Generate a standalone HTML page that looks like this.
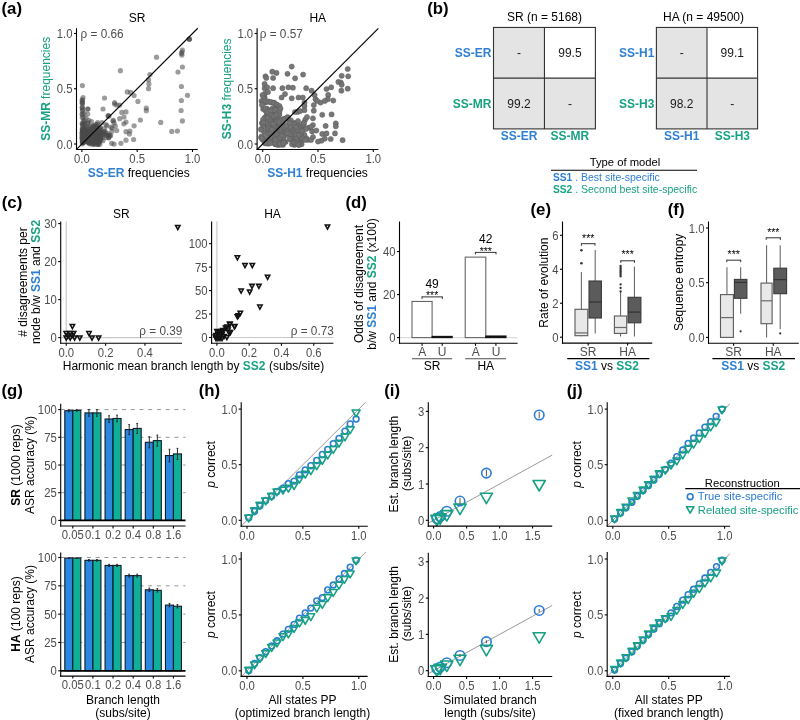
<!DOCTYPE html>
<html><head><meta charset="utf-8"><style>
html,body{margin:0;padding:0;background:#fff;}
svg{display:block;font-family:"Liberation Sans", sans-serif;will-change:transform;}
</style></head><body>
<svg width="800" height="720" viewBox="0 0 800 720">
<rect width="800" height="720" fill="#fff"/>
<text x="1.5" y="14" font-size="16.8" fill="#000" font-weight="bold">(a)</text>
<g fill="#4a4a4a" fill-opacity="0.55"><circle cx="189.2" cy="39" r="2.6"/><circle cx="189.2" cy="39" r="2.6"/><circle cx="189.5" cy="39.3" r="2.6"/><circle cx="182.4" cy="50" r="2.6"/><circle cx="181.4" cy="53.4" r="2.6"/><circle cx="181.9" cy="55.1" r="2.6"/><circle cx="182" cy="52" r="2.6"/><circle cx="156.5" cy="57.2" r="2.6"/><circle cx="120.4" cy="70.7" r="2.6"/><circle cx="182.4" cy="67" r="2.6"/><circle cx="178" cy="72" r="2.6"/><circle cx="149.9" cy="74.6" r="2.6"/><circle cx="148.5" cy="79.7" r="2.6"/><circle cx="148.9" cy="83.9" r="2.6"/><circle cx="148.5" cy="88.7" r="2.6"/><circle cx="82.4" cy="85.6" r="2.6"/><circle cx="181.4" cy="86.5" r="2.6"/><circle cx="187.5" cy="95.3" r="2.6"/><circle cx="127.2" cy="91.9" r="2.6"/><circle cx="130.6" cy="92.4" r="2.6"/><circle cx="134.1" cy="95.5" r="2.6"/><circle cx="104.5" cy="98" r="2.6"/><circle cx="137.9" cy="101.4" r="2.6"/><circle cx="181.4" cy="100.5" r="2.6"/><circle cx="114.6" cy="102.6" r="2.6"/><circle cx="116.7" cy="105.1" r="2.6"/><circle cx="119.7" cy="105.1" r="2.6"/><circle cx="114.6" cy="104" r="2.6"/><circle cx="146.3" cy="108" r="2.6"/><circle cx="146.3" cy="110.7" r="2.6"/><circle cx="181.1" cy="110.5" r="2.6"/><circle cx="121.8" cy="112.4" r="2.6"/><circle cx="126" cy="111.9" r="2.6"/><circle cx="108.2" cy="115.6" r="2.6"/><circle cx="182.4" cy="120.9" r="2.6"/><circle cx="160.7" cy="122.4" r="2.6"/><circle cx="140.4" cy="120" r="2.6"/><circle cx="171.8" cy="131.4" r="2.6"/><circle cx="177.4" cy="131" r="2.6"/><circle cx="134.1" cy="125.8" r="2.6"/><circle cx="126" cy="131.7" r="2.6"/><circle cx="129.9" cy="131" r="2.6"/><circle cx="129.4" cy="134" r="2.6"/><circle cx="133.6" cy="139.5" r="2.6"/><circle cx="126" cy="140.2" r="2.6"/><circle cx="120.9" cy="143.3" r="2.6"/><circle cx="111.6" cy="143.3" r="2.6"/><circle cx="114.1" cy="144.1" r="2.6"/><circle cx="82.4" cy="100" r="2.6"/><circle cx="82.4" cy="102.6" r="2.6"/><circle cx="82.4" cy="107.7" r="2.6"/><circle cx="82.4" cy="114.4" r="2.6"/><circle cx="82.4" cy="111" r="2.6"/><circle cx="82.4" cy="104" r="2.6"/><circle cx="87.9" cy="109" r="2.6"/><circle cx="124" cy="117" r="2.6"/><circle cx="119.7" cy="118.7" r="2.6"/><circle cx="113.3" cy="120.4" r="2.6"/><circle cx="115.3" cy="126" r="2.6"/><circle cx="114.1" cy="122.9" r="2.6"/><circle cx="116.7" cy="130.5" r="2.6"/><circle cx="123.8" cy="123.8" r="2.6"/><circle cx="126" cy="122" r="2.6"/><circle cx="112.1" cy="128" r="2.6"/><circle cx="109.9" cy="135.1" r="2.6"/><circle cx="108.2" cy="116.1" r="2.6"/><circle cx="88.15" cy="133.04" r="2.6"/><circle cx="94.37" cy="131.98" r="2.6"/><circle cx="92.18" cy="135.94" r="2.6"/><circle cx="83.1" cy="137.85" r="2.6"/><circle cx="82.71" cy="136.85" r="2.6"/><circle cx="83.33" cy="132.22" r="2.6"/><circle cx="90.07" cy="142.16" r="2.6"/><circle cx="84.35" cy="134.01" r="2.6"/><circle cx="93.92" cy="143.79" r="2.6"/><circle cx="92.96" cy="136.36" r="2.6"/><circle cx="100.55" cy="131.63" r="2.6"/><circle cx="98.31" cy="134.91" r="2.6"/><circle cx="84.74" cy="132.59" r="2.6"/><circle cx="87.86" cy="142.02" r="2.6"/><circle cx="85.43" cy="138.85" r="2.6"/><circle cx="94.14" cy="136.03" r="2.6"/><circle cx="92.41" cy="131.85" r="2.6"/><circle cx="83.13" cy="133.78" r="2.6"/><circle cx="94.93" cy="136.77" r="2.6"/><circle cx="87.97" cy="138.91" r="2.6"/><circle cx="90.61" cy="135.05" r="2.6"/><circle cx="97.09" cy="140.44" r="2.6"/><circle cx="86.64" cy="138.75" r="2.6"/><circle cx="91.98" cy="142.81" r="2.6"/><circle cx="95.86" cy="134.89" r="2.6"/><circle cx="100.62" cy="132.59" r="2.6"/><circle cx="89.94" cy="141.22" r="2.6"/><circle cx="84.89" cy="137.6" r="2.6"/><circle cx="82.74" cy="140.02" r="2.6"/><circle cx="96.53" cy="138.74" r="2.6"/><circle cx="98.63" cy="135.24" r="2.6"/><circle cx="95.21" cy="139.02" r="2.6"/><circle cx="93.02" cy="137.16" r="2.6"/><circle cx="97.96" cy="143.75" r="2.6"/><circle cx="91.01" cy="139.97" r="2.6"/><circle cx="83.15" cy="140.47" r="2.6"/><circle cx="94.3" cy="144.41" r="2.6"/><circle cx="97.62" cy="134.84" r="2.6"/><circle cx="89.33" cy="140.03" r="2.6"/><circle cx="82.43" cy="137.23" r="2.6"/><circle cx="85.19" cy="132.58" r="2.6"/><circle cx="83.12" cy="141.37" r="2.6"/><circle cx="84.46" cy="134.34" r="2.6"/><circle cx="89.43" cy="142.76" r="2.6"/><circle cx="83.53" cy="137.06" r="2.6"/><circle cx="92.44" cy="142.93" r="2.6"/><circle cx="97.57" cy="142.66" r="2.6"/><circle cx="87.29" cy="136.61" r="2.6"/><circle cx="88.82" cy="142.94" r="2.6"/><circle cx="100.2" cy="133.04" r="2.6"/><circle cx="85.35" cy="134.13" r="2.6"/><circle cx="86.43" cy="137.55" r="2.6"/><circle cx="93.19" cy="134.55" r="2.6"/><circle cx="82.08" cy="136.66" r="2.6"/><circle cx="89.02" cy="138.65" r="2.6"/><circle cx="100.11" cy="140.32" r="2.6"/><circle cx="91.79" cy="139.34" r="2.6"/><circle cx="94.85" cy="131.73" r="2.6"/><circle cx="99.09" cy="141.53" r="2.6"/><circle cx="98.62" cy="141.77" r="2.6"/><circle cx="89.46" cy="136.39" r="2.6"/><circle cx="83.97" cy="139.56" r="2.6"/><circle cx="83.18" cy="131.91" r="2.6"/><circle cx="85.97" cy="133.19" r="2.6"/><circle cx="88.46" cy="131.71" r="2.6"/><circle cx="82" cy="133.04" r="2.6"/><circle cx="83.93" cy="135.91" r="2.6"/><circle cx="82.48" cy="142.8" r="2.6"/><circle cx="93.67" cy="133.01" r="2.6"/><circle cx="86.79" cy="135.69" r="2.6"/><circle cx="88.92" cy="132.66" r="2.6"/><circle cx="98.13" cy="144.41" r="2.6"/><circle cx="90.85" cy="137.53" r="2.6"/><circle cx="83.63" cy="132.38" r="2.6"/><circle cx="88.51" cy="134.57" r="2.6"/><circle cx="97.75" cy="133.18" r="2.6"/><circle cx="82.44" cy="143.84" r="2.6"/><circle cx="92.04" cy="132.98" r="2.6"/><circle cx="92.32" cy="131.37" r="2.6"/><circle cx="92.03" cy="144.21" r="2.6"/><circle cx="98.4" cy="140.4" r="2.6"/><circle cx="86.96" cy="135.95" r="2.6"/><circle cx="85.17" cy="141.42" r="2.6"/><circle cx="92.12" cy="141.52" r="2.6"/><circle cx="88.26" cy="134.01" r="2.6"/><circle cx="97.42" cy="144.3" r="2.6"/><circle cx="98.2" cy="141.88" r="2.6"/><circle cx="97.55" cy="140.99" r="2.6"/><circle cx="86.31" cy="137.99" r="2.6"/><circle cx="88.76" cy="131.39" r="2.6"/><circle cx="82.53" cy="134.77" r="2.6"/><circle cx="86.92" cy="140.35" r="2.6"/><circle cx="100.17" cy="137.04" r="2.6"/><circle cx="99.8" cy="144.34" r="2.6"/><circle cx="100.15" cy="135.92" r="2.6"/><circle cx="86.19" cy="134.06" r="2.6"/><circle cx="85.74" cy="133.76" r="2.6"/><circle cx="93.86" cy="143.15" r="2.6"/><circle cx="97.97" cy="137.47" r="2.6"/><circle cx="94.41" cy="141.8" r="2.6"/><circle cx="83.61" cy="139.92" r="2.6"/><circle cx="99.29" cy="141.56" r="2.6"/><circle cx="96.25" cy="137.45" r="2.6"/><circle cx="85.39" cy="141.65" r="2.6"/><circle cx="88.32" cy="141.81" r="2.6"/><circle cx="100.46" cy="136.34" r="2.6"/><circle cx="89.63" cy="143.78" r="2.6"/><circle cx="95.77" cy="133.3" r="2.6"/><circle cx="84.41" cy="133.04" r="2.6"/><circle cx="99.19" cy="141.89" r="2.6"/><circle cx="82.37" cy="139.32" r="2.6"/><circle cx="84.45" cy="134.75" r="2.6"/><circle cx="82.88" cy="131.81" r="2.6"/><circle cx="82.33" cy="117.38" r="2.6"/><circle cx="84.43" cy="134.54" r="2.6"/><circle cx="83.32" cy="142.21" r="2.6"/><circle cx="83.08" cy="140.54" r="2.6"/><circle cx="84.07" cy="122.7" r="2.6"/><circle cx="82.63" cy="124.91" r="2.6"/><circle cx="82.6" cy="132.83" r="2.6"/><circle cx="82.65" cy="128.31" r="2.6"/><circle cx="82.33" cy="141.57" r="2.6"/><circle cx="82.88" cy="129.37" r="2.6"/><circle cx="83.46" cy="141.42" r="2.6"/><circle cx="83.05" cy="141.78" r="2.6"/><circle cx="83.25" cy="131.36" r="2.6"/><circle cx="83.31" cy="117.51" r="2.6"/><circle cx="83.1" cy="121.94" r="2.6"/><circle cx="82.01" cy="138.58" r="2.6"/><circle cx="82.43" cy="129.78" r="2.6"/><circle cx="83.81" cy="132.02" r="2.6"/><circle cx="82.81" cy="131" r="2.6"/><circle cx="83.39" cy="138.18" r="2.6"/><circle cx="82.27" cy="132.13" r="2.6"/><circle cx="82.62" cy="124.48" r="2.6"/><circle cx="83.93" cy="130.71" r="2.6"/><circle cx="83.4" cy="137.52" r="2.6"/><circle cx="84.28" cy="128.97" r="2.6"/><circle cx="83.53" cy="130.65" r="2.6"/><circle cx="83.28" cy="135.7" r="2.6"/><circle cx="83.13" cy="131.4" r="2.6"/><circle cx="83.2" cy="142.42" r="2.6"/><circle cx="83.75" cy="140.67" r="2.6"/><circle cx="84.36" cy="124.01" r="2.6"/><circle cx="83.4" cy="142.47" r="2.6"/><circle cx="84.1" cy="120.7" r="2.6"/><circle cx="82.3" cy="128.94" r="2.6"/><circle cx="82.18" cy="123.5" r="2.6"/><circle cx="82.18" cy="135.08" r="2.6"/><circle cx="83.96" cy="141.22" r="2.6"/><circle cx="85.24" cy="136.03" r="2.6"/><circle cx="89.28" cy="128" r="2.6"/><circle cx="91.06" cy="139.55" r="2.6"/><circle cx="85.76" cy="139.34" r="2.6"/><circle cx="87.19" cy="132.82" r="2.6"/><circle cx="91.92" cy="137.65" r="2.6"/><circle cx="85.29" cy="132.04" r="2.6"/><circle cx="88.12" cy="130.75" r="2.6"/><circle cx="85.57" cy="130.46" r="2.6"/><circle cx="89.78" cy="126.27" r="2.6"/><circle cx="88.43" cy="132.17" r="2.6"/><circle cx="84.14" cy="130.64" r="2.6"/><circle cx="88.99" cy="133.17" r="2.6"/><circle cx="84.51" cy="139.79" r="2.6"/><circle cx="90.31" cy="139.6" r="2.6"/><circle cx="84.84" cy="129.72" r="2.6"/><circle cx="84.32" cy="136.91" r="2.6"/><circle cx="86.16" cy="127.81" r="2.6"/><circle cx="87.38" cy="138.76" r="2.6"/><circle cx="90.55" cy="129.62" r="2.6"/><circle cx="85.19" cy="138.87" r="2.6"/><circle cx="88.56" cy="135.81" r="2.6"/><circle cx="84.72" cy="126.81" r="2.6"/><circle cx="89.51" cy="131.95" r="2.6"/><circle cx="84.58" cy="139.14" r="2.6"/><circle cx="102.15" cy="137.63" r="2.6"/><circle cx="93.34" cy="138.56" r="2.6"/><circle cx="93.07" cy="138.67" r="2.6"/><circle cx="99.26" cy="129.77" r="2.6"/><circle cx="100.85" cy="139.75" r="2.6"/><circle cx="96.29" cy="126.2" r="2.6"/><circle cx="100.43" cy="128.05" r="2.6"/><circle cx="93.75" cy="126.74" r="2.6"/><circle cx="92.81" cy="127.43" r="2.6"/><circle cx="96.99" cy="129.19" r="2.6"/><circle cx="104.15" cy="128.93" r="2.6"/><circle cx="100" cy="127.02" r="2.6"/><circle cx="97.55" cy="124.31" r="2.6"/><circle cx="96.01" cy="124.26" r="2.6"/><circle cx="103.73" cy="133.37" r="2.6"/><circle cx="95.03" cy="132.07" r="2.6"/><circle cx="106.95" cy="125.81" r="2.6"/><circle cx="105.1" cy="131.35" r="2.6"/><circle cx="99.92" cy="138.19" r="2.6"/><circle cx="98.29" cy="132.61" r="2.6"/><circle cx="103" cy="140.7" r="2.6"/><circle cx="97.48" cy="138.15" r="2.6"/><circle cx="103.31" cy="134.81" r="2.6"/><circle cx="98.48" cy="129.91" r="2.6"/><circle cx="92.87" cy="126.21" r="2.6"/><circle cx="93.13" cy="136.6" r="2.6"/><circle cx="96.09" cy="126.78" r="2.6"/><circle cx="93.35" cy="138.3" r="2.6"/><circle cx="105.93" cy="135.4" r="2.6"/><circle cx="96.51" cy="128.12" r="2.6"/><circle cx="96.69" cy="131.81" r="2.6"/><circle cx="94.52" cy="131.58" r="2.6"/><circle cx="96.21" cy="140.35" r="2.6"/><circle cx="107.56" cy="133.3" r="2.6"/><circle cx="95.91" cy="140.42" r="2.6"/><circle cx="96.95" cy="130.06" r="2.6"/><circle cx="92.02" cy="130.49" r="2.6"/><circle cx="99.59" cy="132.55" r="2.6"/><circle cx="95.22" cy="132.58" r="2.6"/><circle cx="92.08" cy="128.49" r="2.6"/><circle cx="101.08" cy="133.6" r="2.6"/><circle cx="100.5" cy="130.2" r="2.6"/><circle cx="103.65" cy="132.1" r="2.6"/><circle cx="107.03" cy="134.76" r="2.6"/><circle cx="109.01" cy="135.92" r="2.6"/><circle cx="108.59" cy="137.91" r="2.6"/><circle cx="104.67" cy="132.94" r="2.6"/><circle cx="111.82" cy="131.35" r="2.6"/><circle cx="108.69" cy="135.79" r="2.6"/><circle cx="100.53" cy="137.52" r="2.6"/><circle cx="110.7" cy="135.65" r="2.6"/><circle cx="108.81" cy="137.31" r="2.6"/><circle cx="101.67" cy="134.71" r="2.6"/><circle cx="106.05" cy="137.51" r="2.6"/><circle cx="95.66" cy="126.61" r="2.6"/><circle cx="93.01" cy="127.14" r="2.6"/><circle cx="94.19" cy="125.55" r="2.6"/><circle cx="88.76" cy="120.25" r="2.6"/><circle cx="87.6" cy="122.89" r="2.6"/><circle cx="87.26" cy="126.69" r="2.6"/><circle cx="82.2" cy="100" r="2.6"/><circle cx="82.2" cy="102.5" r="2.6"/><circle cx="82.2" cy="107.5" r="2.6"/><circle cx="82.2" cy="114" r="2.6"/><circle cx="87.7" cy="114" r="2.6"/><circle cx="87.7" cy="109" r="2.6"/><circle cx="84" cy="113" r="2.6"/><circle cx="91.4" cy="121.7" r="2.6"/><circle cx="97.7" cy="122.5" r="2.6"/><circle cx="102" cy="122.5" r="2.6"/><circle cx="106" cy="124.6" r="2.6"/><circle cx="88" cy="123" r="2.6"/><circle cx="86" cy="118" r="2.6"/><circle cx="83" cy="97.5" r="2.6"/><circle cx="82.5" cy="109.5" r="2.6"/><circle cx="103" cy="109" r="2.6"/><circle cx="109" cy="116" r="2.6"/><circle cx="113" cy="121" r="2.6"/><circle cx="111" cy="127" r="2.6"/></g>
<line x1="76.5" y1="149.4" x2="197.75" y2="28.25" stroke="#000" stroke-width="1.1"/>
<line x1="76.5" y1="28.2" x2="76.5" y2="150.05" stroke="#000" stroke-width="1.1"/>
<line x1="75.95" y1="149.5" x2="197.75" y2="149.5" stroke="#000" stroke-width="1.1"/>
<line x1="74" y1="33.5" x2="76.5" y2="33.5" stroke="#000" stroke-width="1.1"/>
<text transform="translate(72.5 38.03) scale(1 1.12)" font-size="11.3" fill="#4d4d4d" text-anchor="end">1.0</text>
<line x1="74" y1="88.75" x2="76.5" y2="88.75" stroke="#000" stroke-width="1.1"/>
<text transform="translate(72.5 93.28) scale(1 1.12)" font-size="11.3" fill="#4d4d4d" text-anchor="end">0.5</text>
<line x1="74" y1="144" x2="76.5" y2="144" stroke="#000" stroke-width="1.1"/>
<text transform="translate(72.5 148.53) scale(1 1.12)" font-size="11.3" fill="#4d4d4d" text-anchor="end">0.0</text>
<line x1="81.9" y1="149.5" x2="81.9" y2="152" stroke="#000" stroke-width="1.1"/>
<text transform="translate(81.9 163.33) scale(1 1.12)" font-size="11.3" fill="#4d4d4d" text-anchor="middle">0.0</text>
<line x1="137.2" y1="149.5" x2="137.2" y2="152" stroke="#000" stroke-width="1.1"/>
<text transform="translate(137.2 163.33) scale(1 1.12)" font-size="11.3" fill="#4d4d4d" text-anchor="middle">0.5</text>
<line x1="192.5" y1="149.5" x2="192.5" y2="152" stroke="#000" stroke-width="1.1"/>
<text transform="translate(192.5 163.33) scale(1 1.12)" font-size="11.3" fill="#4d4d4d" text-anchor="middle">1.0</text>
<text x="137.12" y="21.5" font-size="12" fill="#000" text-anchor="middle">SR</text>
<text transform="translate(80.5 37.8) scale(1 1.07)" font-size="11.8" fill="#4d4d4d">ρ = 0.66</text>
<text x="50.5" y="88.85" font-size="12" fill="#18a284" text-anchor="middle" transform="rotate(-90 50.5 88.85)"><tspan font-weight="bold">SS-MR</tspan> frequencies</text>
<text x="138.75" y="176.5" font-size="12" fill="#000" text-anchor="middle"><tspan font-weight="bold" fill="#2f80d2">SS-ER</tspan> frequencies</text>
<g fill="#737373" fill-opacity="0.97" stroke="#5a5a5a" stroke-width="0.45"><circle cx="291.7" cy="66.6" r="2.6"/><circle cx="272.3" cy="71.7" r="2.6"/><circle cx="276.5" cy="72.9" r="2.6"/><circle cx="287.5" cy="73.8" r="2.6"/><circle cx="303.1" cy="74.6" r="2.6"/><circle cx="265.5" cy="76.3" r="2.6"/><circle cx="266.3" cy="78" r="2.6"/><circle cx="273.1" cy="78" r="2.6"/><circle cx="295.1" cy="78.3" r="2.6"/><circle cx="347.7" cy="69" r="2.6"/><circle cx="341.7" cy="75.8" r="2.6"/><circle cx="348.2" cy="76.3" r="2.6"/><circle cx="338.4" cy="81.9" r="2.6"/><circle cx="340.9" cy="82.6" r="2.6"/><circle cx="341.7" cy="84.8" r="2.6"/><circle cx="347.7" cy="88.7" r="2.6"/><circle cx="341.4" cy="90.7" r="2.6"/><circle cx="264.6" cy="83.9" r="2.6"/><circle cx="264.6" cy="88.2" r="2.6"/><circle cx="267.2" cy="87.3" r="2.6"/><circle cx="273.1" cy="88.2" r="2.6"/><circle cx="282.4" cy="88.2" r="2.6"/><circle cx="288.4" cy="87.3" r="2.6"/><circle cx="292.9" cy="87.7" r="2.6"/><circle cx="306.2" cy="88.2" r="2.6"/><circle cx="311.6" cy="90.7" r="2.6"/><circle cx="326.5" cy="89" r="2.6"/><circle cx="331.2" cy="87.3" r="2.6"/><circle cx="285" cy="94.1" r="2.6"/><circle cx="281.6" cy="97.5" r="2.6"/><circle cx="291.7" cy="98.3" r="2.6"/><circle cx="298.5" cy="97.5" r="2.6"/><circle cx="302.8" cy="97.5" r="2.6"/><circle cx="314.6" cy="95" r="2.6"/><circle cx="315.5" cy="99.2" r="2.6"/><circle cx="328.19" cy="94.95" r="2.6"/><circle cx="327.85" cy="99.19" r="2.6"/><circle cx="324.8" cy="100.88" r="2.6"/><circle cx="320.56" cy="102.58" r="2.6"/><circle cx="317.17" cy="100.88" r="2.6"/><circle cx="333.27" cy="100.54" r="2.6"/><circle cx="264.63" cy="97.49" r="2.6"/><circle cx="265.47" cy="102.58" r="2.6"/><circle cx="268.86" cy="101.73" r="2.6"/><circle cx="271.41" cy="102.58" r="2.6"/><circle cx="273.95" cy="102.58" r="2.6"/><circle cx="275.64" cy="105.12" r="2.6"/><circle cx="277.34" cy="105.97" r="2.6"/><circle cx="279.03" cy="107.66" r="2.6"/><circle cx="304.46" cy="102.58" r="2.6"/><circle cx="304.46" cy="105.97" r="2.6"/><circle cx="304.46" cy="110.2" r="2.6"/><circle cx="313.78" cy="105.12" r="2.6"/><circle cx="313.78" cy="110.71" r="2.6"/><circle cx="297.68" cy="111.9" r="2.6"/><circle cx="300.22" cy="111.05" r="2.6"/><circle cx="322.25" cy="114.78" r="2.6"/><circle cx="331.58" cy="114.44" r="2.6"/><circle cx="287.51" cy="116.98" r="2.6"/><circle cx="284.12" cy="118.68" r="2.6"/><circle cx="312.93" cy="118.34" r="2.6"/><circle cx="305.31" cy="119.53" r="2.6"/><circle cx="303.61" cy="122.92" r="2.6"/><circle cx="303.61" cy="125.46" r="2.6"/><circle cx="325.64" cy="125.97" r="2.6"/><circle cx="335.81" cy="123.42" r="2.6"/><circle cx="335.81" cy="126.31" r="2.6"/><circle cx="312.93" cy="125.12" r="2.6"/><circle cx="308.69" cy="127.66" r="2.6"/><circle cx="312.08" cy="131.39" r="2.6"/><circle cx="316.32" cy="130.54" r="2.6"/><circle cx="322.25" cy="133.93" r="2.6"/><circle cx="326.49" cy="133.42" r="2.6"/><circle cx="334.97" cy="133.42" r="2.6"/><circle cx="330.73" cy="139.02" r="2.6"/><circle cx="324.8" cy="138.68" r="2.6"/><circle cx="321.41" cy="140.71" r="2.6"/><circle cx="318.02" cy="141.56" r="2.6"/><circle cx="342.59" cy="140.2" r="2.6"/><circle cx="307.85" cy="139.86" r="2.6"/><circle cx="306.15" cy="138.17" r="2.6"/><circle cx="304.46" cy="134.78" r="2.6"/><circle cx="295.98" cy="129.69" r="2.6"/><circle cx="298.53" cy="124.61" r="2.6"/><circle cx="294.29" cy="122.92" r="2.6"/><circle cx="290.9" cy="120.37" r="2.6"/><circle cx="292.59" cy="133.08" r="2.6"/><circle cx="299.37" cy="136.47" r="2.6"/><circle cx="299.37" cy="131.39" r="2.6"/><circle cx="293.44" cy="139.86" r="2.6"/><circle cx="295.98" cy="143.25" r="2.6"/><circle cx="301.07" cy="142.41" r="2.6"/><circle cx="271.61" cy="133.83" r="2.6"/><circle cx="272.9" cy="135.42" r="2.6"/><circle cx="270.3" cy="115.1" r="2.6"/><circle cx="276.16" cy="137.45" r="2.6"/><circle cx="270.56" cy="131.06" r="2.6"/><circle cx="273.53" cy="116.98" r="2.6"/><circle cx="275" cy="122.57" r="2.6"/><circle cx="262.41" cy="122.97" r="2.6"/><circle cx="274.86" cy="121.16" r="2.6"/><circle cx="275.06" cy="144.27" r="2.6"/><circle cx="270.39" cy="126.48" r="2.6"/><circle cx="270.1" cy="135.51" r="2.6"/><circle cx="275.57" cy="133.51" r="2.6"/><circle cx="273.21" cy="117.32" r="2.6"/><circle cx="263.8" cy="122.62" r="2.6"/><circle cx="275.12" cy="124.13" r="2.6"/><circle cx="271.79" cy="115.37" r="2.6"/><circle cx="262.15" cy="123.06" r="2.6"/><circle cx="273.77" cy="135.77" r="2.6"/><circle cx="273.84" cy="123.73" r="2.6"/><circle cx="270.81" cy="128.94" r="2.6"/><circle cx="269.86" cy="118.56" r="2.6"/><circle cx="277.98" cy="120.98" r="2.6"/><circle cx="279.58" cy="143.09" r="2.6"/><circle cx="261.33" cy="128.77" r="2.6"/><circle cx="276.58" cy="144.04" r="2.6"/><circle cx="269.54" cy="123.06" r="2.6"/><circle cx="264.99" cy="143.37" r="2.6"/><circle cx="265" cy="132.44" r="2.6"/><circle cx="263.69" cy="130.72" r="2.6"/><circle cx="279.1" cy="118.98" r="2.6"/><circle cx="276.58" cy="130.26" r="2.6"/><circle cx="277.85" cy="136.1" r="2.6"/><circle cx="265.4" cy="141.93" r="2.6"/><circle cx="270.24" cy="115.75" r="2.6"/><circle cx="261.07" cy="129.75" r="2.6"/><circle cx="269.56" cy="124.06" r="2.6"/><circle cx="263.67" cy="125.32" r="2.6"/><circle cx="267.01" cy="140.21" r="2.6"/><circle cx="261.03" cy="137.52" r="2.6"/><circle cx="276.94" cy="118.6" r="2.6"/><circle cx="278.6" cy="136.39" r="2.6"/><circle cx="278.13" cy="123.69" r="2.6"/><circle cx="268.07" cy="126.79" r="2.6"/><circle cx="279.98" cy="132.68" r="2.6"/><circle cx="267.85" cy="127.84" r="2.6"/><circle cx="266.23" cy="116.45" r="2.6"/><circle cx="262.93" cy="140.04" r="2.6"/><circle cx="266.43" cy="143.07" r="2.6"/><circle cx="265.74" cy="122.97" r="2.6"/><circle cx="270.71" cy="120.7" r="2.6"/><circle cx="268.09" cy="143.68" r="2.6"/><circle cx="277.8" cy="139.36" r="2.6"/><circle cx="272.99" cy="142.4" r="2.6"/><circle cx="278.87" cy="131.48" r="2.6"/><circle cx="274.67" cy="116.48" r="2.6"/><circle cx="274.91" cy="128.53" r="2.6"/><circle cx="275.3" cy="134.33" r="2.6"/><circle cx="266.44" cy="116.47" r="2.6"/><circle cx="278.61" cy="118.82" r="2.6"/><circle cx="269.97" cy="125.31" r="2.6"/><circle cx="266.66" cy="137.17" r="2.6"/><circle cx="279.55" cy="122.81" r="2.6"/><circle cx="273.46" cy="124.03" r="2.6"/><circle cx="271.59" cy="126.83" r="2.6"/><circle cx="264.18" cy="119.85" r="2.6"/><circle cx="264.95" cy="142.18" r="2.6"/><circle cx="270.44" cy="121.6" r="2.6"/><circle cx="278.22" cy="144.89" r="2.6"/><circle cx="269.55" cy="119.19" r="2.6"/><circle cx="264.66" cy="117.72" r="2.6"/><circle cx="267.5" cy="117.73" r="2.6"/><circle cx="265.54" cy="122.75" r="2.6"/><circle cx="271.82" cy="141.62" r="2.6"/><circle cx="275.24" cy="127.38" r="2.6"/><circle cx="268.86" cy="130.73" r="2.6"/><circle cx="268.16" cy="125.15" r="2.6"/><circle cx="262.18" cy="123.33" r="2.6"/><circle cx="279.39" cy="118.78" r="2.6"/><circle cx="270.56" cy="133.89" r="2.6"/><circle cx="277.39" cy="121.48" r="2.6"/><circle cx="266.15" cy="122.45" r="2.6"/><circle cx="268.6" cy="128.38" r="2.6"/><circle cx="279.12" cy="140.46" r="2.6"/><circle cx="277.58" cy="115.65" r="2.6"/><circle cx="261.61" cy="136.29" r="2.6"/><circle cx="278.02" cy="129.2" r="2.6"/><circle cx="272.16" cy="115.01" r="2.6"/><circle cx="268.44" cy="142.8" r="2.6"/><circle cx="276.69" cy="140.66" r="2.6"/><circle cx="279.47" cy="122.45" r="2.6"/><circle cx="263.07" cy="119.63" r="2.6"/><circle cx="270.92" cy="135.46" r="2.6"/><circle cx="278.89" cy="136.65" r="2.6"/><circle cx="273.3" cy="137.94" r="2.6"/><circle cx="269.69" cy="131.55" r="2.6"/><circle cx="261.75" cy="138.47" r="2.6"/><circle cx="265.42" cy="142.6" r="2.6"/><circle cx="273.26" cy="124.11" r="2.6"/><circle cx="263.43" cy="122.55" r="2.6"/><circle cx="273.09" cy="114.44" r="2.6"/><circle cx="263.13" cy="109.1" r="2.6"/><circle cx="270.96" cy="113.45" r="2.6"/><circle cx="268.37" cy="110.4" r="2.6"/><circle cx="272.42" cy="108.59" r="2.6"/><circle cx="266.73" cy="112.42" r="2.6"/><circle cx="279.22" cy="113.98" r="2.6"/><circle cx="277.79" cy="112.54" r="2.6"/><circle cx="265.46" cy="110.6" r="2.6"/><circle cx="279.25" cy="114.49" r="2.6"/><circle cx="266.84" cy="108.69" r="2.6"/><circle cx="270.47" cy="114.23" r="2.6"/><circle cx="268.98" cy="110.69" r="2.6"/><circle cx="273.68" cy="116.36" r="2.6"/><circle cx="265.31" cy="108.79" r="2.6"/><circle cx="267.42" cy="112.07" r="2.6"/><circle cx="273.97" cy="110.18" r="2.6"/><circle cx="276.14" cy="114.78" r="2.6"/><circle cx="270.59" cy="110.24" r="2.6"/><circle cx="279.43" cy="111.15" r="2.6"/><circle cx="297.06" cy="131.92" r="2.6"/><circle cx="277.31" cy="140.93" r="2.6"/><circle cx="279.73" cy="144.18" r="2.6"/><circle cx="286.36" cy="131.18" r="2.6"/><circle cx="277.37" cy="135.09" r="2.6"/><circle cx="291.95" cy="144.13" r="2.6"/><circle cx="274.83" cy="134.69" r="2.6"/><circle cx="277.03" cy="144.56" r="2.6"/><circle cx="274.68" cy="128.88" r="2.6"/><circle cx="271.98" cy="134.69" r="2.6"/><circle cx="299.64" cy="143.02" r="2.6"/><circle cx="294.18" cy="144.96" r="2.6"/><circle cx="300.74" cy="133.6" r="2.6"/><circle cx="276.12" cy="143.91" r="2.6"/><circle cx="294.63" cy="128.54" r="2.6"/><circle cx="291.93" cy="134.44" r="2.6"/><circle cx="282.34" cy="133.64" r="2.6"/><circle cx="275.59" cy="128.05" r="2.6"/><circle cx="279.23" cy="133.97" r="2.6"/><circle cx="301.53" cy="130.1" r="2.6"/><circle cx="301.82" cy="131.53" r="2.6"/><circle cx="281.77" cy="141.97" r="2.6"/><circle cx="297.13" cy="135.35" r="2.6"/><circle cx="271.63" cy="136.05" r="2.6"/><circle cx="282.3" cy="143.63" r="2.6"/><circle cx="276.37" cy="134.19" r="2.6"/><circle cx="299.6" cy="128.51" r="2.6"/><circle cx="283.56" cy="141.8" r="2.6"/><circle cx="295.3" cy="128.69" r="2.6"/><circle cx="271.15" cy="129.06" r="2.6"/><circle cx="300.36" cy="132.37" r="2.6"/><circle cx="294.66" cy="143.28" r="2.6"/><circle cx="281.19" cy="132.63" r="2.6"/><circle cx="301.6" cy="138.49" r="2.6"/><circle cx="278.65" cy="140.18" r="2.6"/><circle cx="280.44" cy="132.69" r="2.6"/><circle cx="270.12" cy="140.85" r="2.6"/><circle cx="300.24" cy="138.78" r="2.6"/><circle cx="301.13" cy="128.41" r="2.6"/><circle cx="277.72" cy="136.08" r="2.6"/><circle cx="301.57" cy="144.22" r="2.6"/><circle cx="282.75" cy="132.27" r="2.6"/><circle cx="284.19" cy="136.39" r="2.6"/><circle cx="300.63" cy="131.11" r="2.6"/><circle cx="296.48" cy="140.55" r="2.6"/><circle cx="297.15" cy="141.14" r="2.6"/><circle cx="290.04" cy="133.57" r="2.6"/><circle cx="280.55" cy="134.15" r="2.6"/><circle cx="295.81" cy="129.34" r="2.6"/><circle cx="276.51" cy="140.8" r="2.6"/><circle cx="278.16" cy="129.1" r="2.6"/><circle cx="271.12" cy="137.39" r="2.6"/><circle cx="280.75" cy="144.66" r="2.6"/><circle cx="299.15" cy="144.79" r="2.6"/><circle cx="278.74" cy="129.43" r="2.6"/><circle cx="273.18" cy="136.47" r="2.6"/><circle cx="293.42" cy="135.6" r="2.6"/><circle cx="277.73" cy="135.09" r="2.6"/><circle cx="290.47" cy="139.46" r="2.6"/><circle cx="294.68" cy="142.4" r="2.6"/><circle cx="291.93" cy="130.06" r="2.6"/><circle cx="297.75" cy="132.99" r="2.6"/><circle cx="288.71" cy="134.34" r="2.6"/><circle cx="294.36" cy="131.39" r="2.6"/><circle cx="278.17" cy="132.17" r="2.6"/><circle cx="275.06" cy="143.03" r="2.6"/><circle cx="289.08" cy="133.55" r="2.6"/><circle cx="283.07" cy="144.87" r="2.6"/><circle cx="286.74" cy="131.93" r="2.6"/><circle cx="296.68" cy="139.11" r="2.6"/><circle cx="302.7" cy="129.74" r="2.6"/><circle cx="285.67" cy="141.92" r="2.6"/><circle cx="297.74" cy="143.54" r="2.6"/><circle cx="271.33" cy="132.99" r="2.6"/><circle cx="273.93" cy="131.22" r="2.6"/><circle cx="302.11" cy="137.91" r="2.6"/><circle cx="300.7" cy="134.33" r="2.6"/><circle cx="298.58" cy="135.63" r="2.6"/><circle cx="278.58" cy="141.22" r="2.6"/><circle cx="301.21" cy="129.8" r="2.6"/><circle cx="289.67" cy="138.54" r="2.6"/><circle cx="277.18" cy="134.27" r="2.6"/><circle cx="274.67" cy="131.47" r="2.6"/><circle cx="278.41" cy="138.19" r="2.6"/><circle cx="291.5" cy="131.46" r="2.6"/><circle cx="270.38" cy="133.56" r="2.6"/><circle cx="292.38" cy="131.15" r="2.6"/><circle cx="280.3" cy="131.46" r="2.6"/><circle cx="296.24" cy="137.32" r="2.6"/><circle cx="272.09" cy="129.72" r="2.6"/><circle cx="283.04" cy="137.35" r="2.6"/><circle cx="291.09" cy="129.55" r="2.6"/><circle cx="275.4" cy="139.82" r="2.6"/><circle cx="283.52" cy="132.82" r="2.6"/><circle cx="280.15" cy="144.2" r="2.6"/><circle cx="280.31" cy="137.63" r="2.6"/><circle cx="281.79" cy="135.08" r="2.6"/><circle cx="298.52" cy="144.94" r="2.6"/><circle cx="282" cy="131.35" r="2.6"/><circle cx="294.03" cy="131.46" r="2.6"/><circle cx="270.19" cy="143.33" r="2.6"/><circle cx="283.98" cy="141.95" r="2.6"/><circle cx="283.41" cy="143.01" r="2.6"/><circle cx="285.21" cy="130.76" r="2.6"/><circle cx="270.49" cy="137.38" r="2.6"/><circle cx="292.45" cy="133.83" r="2.6"/><circle cx="280.87" cy="130.09" r="2.6"/><circle cx="286.79" cy="128.56" r="2.6"/><circle cx="282.06" cy="125.68" r="2.6"/><circle cx="289.94" cy="134.03" r="2.6"/><circle cx="281.28" cy="128.38" r="2.6"/><circle cx="295.9" cy="134.57" r="2.6"/><circle cx="283.14" cy="123.65" r="2.6"/><circle cx="298.8" cy="134.68" r="2.6"/><circle cx="289.14" cy="122.69" r="2.6"/><circle cx="298.45" cy="127.04" r="2.6"/><circle cx="297.99" cy="130.06" r="2.6"/><circle cx="296.32" cy="124.08" r="2.6"/><circle cx="295.5" cy="124.89" r="2.6"/><circle cx="287.49" cy="133" r="2.6"/><circle cx="296.41" cy="124.38" r="2.6"/><circle cx="283.58" cy="127.2" r="2.6"/><circle cx="289.88" cy="126.99" r="2.6"/><circle cx="261.5" cy="101" r="2.6"/><circle cx="263" cy="103" r="2.6"/><circle cx="265" cy="100.5" r="2.6"/><circle cx="268" cy="101.5" r="2.6"/><circle cx="271" cy="102" r="2.6"/><circle cx="274" cy="103" r="2.6"/><circle cx="277" cy="104.5" r="2.6"/><circle cx="279.5" cy="106" r="2.6"/><circle cx="280.5" cy="108.5" r="2.6"/><circle cx="262" cy="105" r="2.6"/><circle cx="263.5" cy="97" r="2.6"/><circle cx="265" cy="93.5" r="2.6"/><circle cx="268" cy="92" r="2.6"/><circle cx="262.5" cy="95" r="2.6"/><circle cx="285" cy="119" r="2.6"/><circle cx="288" cy="118" r="2.6"/><circle cx="294" cy="124" r="2.6"/><circle cx="295" cy="112" r="2.6"/><circle cx="298" cy="121" r="2.6"/><circle cx="304" cy="123" r="2.6"/><circle cx="307" cy="117" r="2.6"/><circle cx="306" cy="129" r="2.6"/><circle cx="311" cy="127" r="2.6"/><circle cx="313" cy="137" r="2.6"/><circle cx="311" cy="140" r="2.6"/><circle cx="305" cy="140" r="2.6"/><circle cx="302" cy="131" r="2.6"/><circle cx="286" cy="126" r="2.6"/><circle cx="290" cy="123" r="2.6"/><circle cx="296" cy="127" r="2.6"/></g>
<line x1="257.2" y1="149.5" x2="378.35" y2="28.45" stroke="#000" stroke-width="1.1"/>
<line x1="257.1" y1="28.2" x2="257.1" y2="150.05" stroke="#000" stroke-width="1.1"/>
<line x1="256.55" y1="149.5" x2="378.35" y2="149.5" stroke="#000" stroke-width="1.1"/>
<line x1="254.6" y1="33.5" x2="257.1" y2="33.5" stroke="#000" stroke-width="1.1"/>
<text transform="translate(253.1 38.03) scale(1 1.12)" font-size="11.3" fill="#4d4d4d" text-anchor="end">1.0</text>
<line x1="254.6" y1="88.75" x2="257.1" y2="88.75" stroke="#000" stroke-width="1.1"/>
<text transform="translate(253.1 93.28) scale(1 1.12)" font-size="11.3" fill="#4d4d4d" text-anchor="end">0.5</text>
<line x1="254.6" y1="144" x2="257.1" y2="144" stroke="#000" stroke-width="1.1"/>
<text transform="translate(253.1 148.53) scale(1 1.12)" font-size="11.3" fill="#4d4d4d" text-anchor="end">0.0</text>
<line x1="262.7" y1="149.5" x2="262.7" y2="152" stroke="#000" stroke-width="1.1"/>
<text transform="translate(262.7 163.33) scale(1 1.12)" font-size="11.3" fill="#4d4d4d" text-anchor="middle">0.0</text>
<line x1="318" y1="149.5" x2="318" y2="152" stroke="#000" stroke-width="1.1"/>
<text transform="translate(318 163.33) scale(1 1.12)" font-size="11.3" fill="#4d4d4d" text-anchor="middle">0.5</text>
<line x1="373.3" y1="149.5" x2="373.3" y2="152" stroke="#000" stroke-width="1.1"/>
<text transform="translate(373.3 163.33) scale(1 1.12)" font-size="11.3" fill="#4d4d4d" text-anchor="middle">1.0</text>
<text x="317.73" y="21.5" font-size="12" fill="#000" text-anchor="middle">HA</text>
<text transform="translate(259.7 37.8) scale(1 1.07)" font-size="11.8" fill="#4d4d4d">ρ = 0.57</text>
<text x="231.1" y="88.85" font-size="12" fill="#18a284" text-anchor="middle" transform="rotate(-90 231.1 88.85)"><tspan font-weight="bold">SS-H3</tspan> frequencies</text>
<text x="317.5" y="176.5" font-size="12" fill="#000" text-anchor="middle"><tspan font-weight="bold" fill="#2f80d2">SS-H1</tspan> frequencies</text>
<text x="427.25" y="14" font-size="16.8" fill="#000" font-weight="bold">(b)</text>
<rect x="493.5" y="27.45" width="50.95" height="50.72" fill="#e4e4e4" stroke="none" stroke-width="1"/>
<rect x="544.45" y="27.45" width="50.95" height="50.72" fill="#ffffff" stroke="none" stroke-width="1"/>
<rect x="493.5" y="78.17" width="50.95" height="50.72" fill="#e4e4e4" stroke="none" stroke-width="1"/>
<rect x="544.45" y="78.17" width="50.95" height="50.72" fill="#e4e4e4" stroke="none" stroke-width="1"/>
<rect x="493.5" y="27.45" width="101.9" height="101.44" fill="none" stroke="#333" stroke-width="1.1"/>
<line x1="544.45" y1="27.45" x2="544.45" y2="128.89" stroke="#333" stroke-width="1.1"/>
<line x1="493.5" y1="78.17" x2="595.4" y2="78.17" stroke="#333" stroke-width="1.1"/>
<text x="544.5" y="20.5" font-size="12" fill="#000" text-anchor="middle">SR (n = 5168)</text>
<text x="491.5" y="57.11" font-size="12" fill="#2f80d2" text-anchor="end" font-weight="bold">SS-ER</text>
<text x="491.5" y="107.83" font-size="12" fill="#18a284" text-anchor="end" font-weight="bold">SS-MR</text>
<text x="518.98" y="140.3" font-size="12" fill="#2f80d2" text-anchor="middle" font-weight="bold">SS-ER</text>
<text x="569.93" y="140.3" font-size="12" fill="#18a284" text-anchor="middle" font-weight="bold">SS-MR</text>
<text transform="translate(518.98 57.36) scale(1 1.06)" font-size="12" fill="#1a1a1a" text-anchor="middle">-</text>
<text transform="translate(569.93 57.36) scale(1 1.06)" font-size="12" fill="#1a1a1a" text-anchor="middle">99.5</text>
<text transform="translate(518.98 108.08) scale(1 1.06)" font-size="12" fill="#1a1a1a" text-anchor="middle">99.2</text>
<text transform="translate(569.93 108.08) scale(1 1.06)" font-size="12" fill="#1a1a1a" text-anchor="middle">-</text>
<rect x="656.4" y="27.45" width="50.6" height="50.72" fill="#e4e4e4" stroke="none" stroke-width="1"/>
<rect x="707" y="27.45" width="50.6" height="50.72" fill="#ffffff" stroke="none" stroke-width="1"/>
<rect x="656.4" y="78.17" width="50.6" height="50.72" fill="#e4e4e4" stroke="none" stroke-width="1"/>
<rect x="707" y="78.17" width="50.6" height="50.72" fill="#e4e4e4" stroke="none" stroke-width="1"/>
<rect x="656.4" y="27.45" width="101.2" height="101.44" fill="none" stroke="#333" stroke-width="1.1"/>
<line x1="707" y1="27.45" x2="707" y2="128.89" stroke="#333" stroke-width="1.1"/>
<line x1="656.4" y1="78.17" x2="757.6" y2="78.17" stroke="#333" stroke-width="1.1"/>
<text x="703.5" y="20.5" font-size="12" fill="#000" text-anchor="middle">HA (n = 49500)</text>
<text x="654.4" y="57.11" font-size="12" fill="#2f80d2" text-anchor="end" font-weight="bold">SS-H1</text>
<text x="654.4" y="107.83" font-size="12" fill="#18a284" text-anchor="end" font-weight="bold">SS-H3</text>
<text x="681.7" y="140.3" font-size="12" fill="#2f80d2" text-anchor="middle" font-weight="bold">SS-H1</text>
<text x="732.3" y="140.3" font-size="12" fill="#18a284" text-anchor="middle" font-weight="bold">SS-H3</text>
<text transform="translate(681.7 57.36) scale(1 1.06)" font-size="12" fill="#1a1a1a" text-anchor="middle">-</text>
<text transform="translate(732.3 57.36) scale(1 1.06)" font-size="12" fill="#1a1a1a" text-anchor="middle">99.1</text>
<text transform="translate(681.7 108.08) scale(1 1.06)" font-size="12" fill="#1a1a1a" text-anchor="middle">98.2</text>
<text transform="translate(732.3 108.08) scale(1 1.06)" font-size="12" fill="#1a1a1a" text-anchor="middle">-</text>
<text x="625" y="166" font-size="11.25" fill="#000" text-anchor="middle">Type of model</text>
<line x1="551" y1="170.3" x2="697" y2="170.3" stroke="#000" stroke-width="1.1"/>
<text x="553" y="180.5" font-size="10.5" fill="#2f80d2"><tspan font-weight="bold" font-size="10.2">SS1</tspan> . Best site-specific</text>
<text x="553" y="192.5" font-size="10.5" fill="#18a284"><tspan font-weight="bold" font-size="10.2">SS2</tspan> . Second best site-specific</text>
<text x="1.75" y="207.6" font-size="16.8" fill="#000" font-weight="bold">(c)</text>
<line x1="66.25" y1="221.5" x2="66.25" y2="343.3" stroke="#c9c9c9" stroke-width="1.2"/>
<line x1="60.7" y1="337.6" x2="182" y2="337.6" stroke="#c9c9c9" stroke-width="1.2"/>
<path d="M64.05 331.55L68.45 331.55L66.25 335.65Z" fill="none" stroke="#111" stroke-width="1.55" stroke-linejoin="miter"/>
<path d="M68 331.55L72.4 331.55L70.2 335.65Z" fill="none" stroke="#111" stroke-width="1.55" stroke-linejoin="miter"/>
<path d="M71.4 331.55L75.8 331.55L73.6 335.65Z" fill="none" stroke="#111" stroke-width="1.55" stroke-linejoin="miter"/>
<path d="M70.2 324.55L74.6 324.55L72.4 328.65Z" fill="none" stroke="#111" stroke-width="1.55" stroke-linejoin="miter"/>
<path d="M64.05 335.95L68.45 335.95L66.25 340.05Z" fill="none" stroke="#111" stroke-width="1.55" stroke-linejoin="miter"/>
<path d="M68 335.95L72.4 335.95L70.2 340.05Z" fill="none" stroke="#111" stroke-width="1.55" stroke-linejoin="miter"/>
<path d="M72.4 335.95L76.8 335.95L74.6 340.05Z" fill="none" stroke="#111" stroke-width="1.55" stroke-linejoin="miter"/>
<path d="M77.6 335.95L82 335.95L79.8 340.05Z" fill="none" stroke="#111" stroke-width="1.55" stroke-linejoin="miter"/>
<path d="M86.8 331.55L91.2 331.55L89 335.65Z" fill="none" stroke="#111" stroke-width="1.55" stroke-linejoin="miter"/>
<path d="M89.8 335.95L94.2 335.95L92 340.05Z" fill="none" stroke="#111" stroke-width="1.55" stroke-linejoin="miter"/>
<path d="M96.4 335.95L100.8 335.95L98.6 340.05Z" fill="none" stroke="#111" stroke-width="1.55" stroke-linejoin="miter"/>
<path d="M175.6 225.45L180 225.45L177.8 229.55Z" fill="none" stroke="#111" stroke-width="1.55" stroke-linejoin="miter"/>
<path d="M65.8 333.95L70.2 333.95L68 338.05Z" fill="none" stroke="#111" stroke-width="1.55" stroke-linejoin="miter"/>
<path d="M69.8 333.45L74.2 333.45L72 337.55Z" fill="none" stroke="#111" stroke-width="1.55" stroke-linejoin="miter"/>
<line x1="60.7" y1="221.5" x2="60.7" y2="343.85" stroke="#000" stroke-width="1.1"/>
<line x1="60.15" y1="343.3" x2="182" y2="343.3" stroke="#000" stroke-width="1.1"/>
<line x1="58.2" y1="337.6" x2="60.7" y2="337.6" stroke="#000" stroke-width="1.1"/>
<text transform="translate(56.7 342.13) scale(1 1.12)" font-size="11.3" fill="#4d4d4d" text-anchor="end">0</text>
<line x1="58.2" y1="299.6" x2="60.7" y2="299.6" stroke="#000" stroke-width="1.1"/>
<text transform="translate(56.7 304.13) scale(1 1.12)" font-size="11.3" fill="#4d4d4d" text-anchor="end">10</text>
<line x1="58.2" y1="261.6" x2="60.7" y2="261.6" stroke="#000" stroke-width="1.1"/>
<text transform="translate(56.7 266.13) scale(1 1.12)" font-size="11.3" fill="#4d4d4d" text-anchor="end">20</text>
<line x1="58.2" y1="223.6" x2="60.7" y2="223.6" stroke="#000" stroke-width="1.1"/>
<text transform="translate(56.7 228.13) scale(1 1.12)" font-size="11.3" fill="#4d4d4d" text-anchor="end">30</text>
<line x1="66.25" y1="343.3" x2="66.25" y2="345.8" stroke="#000" stroke-width="1.1"/>
<text transform="translate(66.25 356.73) scale(1 1.12)" font-size="11.3" fill="#4d4d4d" text-anchor="middle">0.0</text>
<line x1="105.6" y1="343.3" x2="105.6" y2="345.8" stroke="#000" stroke-width="1.1"/>
<text transform="translate(105.6 356.73) scale(1 1.12)" font-size="11.3" fill="#4d4d4d" text-anchor="middle">0.2</text>
<line x1="144.95" y1="343.3" x2="144.95" y2="345.8" stroke="#000" stroke-width="1.1"/>
<text transform="translate(144.95 356.73) scale(1 1.12)" font-size="11.3" fill="#4d4d4d" text-anchor="middle">0.4</text>
<text x="121.35" y="217.5" font-size="12" fill="#000" text-anchor="middle">SR</text>
<text transform="translate(182.4 334.7) scale(1 1.07)" font-size="11.8" fill="#4d4d4d" text-anchor="end">ρ = 0.39</text>
<line x1="216.9" y1="221.5" x2="216.9" y2="343.3" stroke="#c9c9c9" stroke-width="1.2"/>
<line x1="211.6" y1="337.5" x2="333.4" y2="337.5" stroke="#c9c9c9" stroke-width="1.2"/>
<path d="M235.2 255.75L239.6 255.75L237.4 259.85Z" fill="none" stroke="#111" stroke-width="1.55" stroke-linejoin="miter"/>
<path d="M242.8 263.45L247.2 263.45L245 267.55Z" fill="none" stroke="#111" stroke-width="1.55" stroke-linejoin="miter"/>
<path d="M250.1 263.45L254.5 263.45L252.3 267.55Z" fill="none" stroke="#111" stroke-width="1.55" stroke-linejoin="miter"/>
<path d="M265.4 275.15L269.8 275.15L267.6 279.25Z" fill="none" stroke="#111" stroke-width="1.55" stroke-linejoin="miter"/>
<path d="M249.8 284.35L254.2 284.35L252 288.45Z" fill="none" stroke="#111" stroke-width="1.55" stroke-linejoin="miter"/>
<path d="M256.7 284.35L261.1 284.35L258.9 288.45Z" fill="none" stroke="#111" stroke-width="1.55" stroke-linejoin="miter"/>
<path d="M238.9 288.95L243.3 288.95L241.1 293.05Z" fill="none" stroke="#111" stroke-width="1.55" stroke-linejoin="miter"/>
<path d="M247.5 289.95L251.9 289.95L249.7 294.05Z" fill="none" stroke="#111" stroke-width="1.55" stroke-linejoin="miter"/>
<path d="M257.7 305.05L262.1 305.05L259.9 309.15Z" fill="none" stroke="#111" stroke-width="1.55" stroke-linejoin="miter"/>
<path d="M238.1 311.15L242.5 311.15L240.3 315.25Z" fill="none" stroke="#111" stroke-width="1.55" stroke-linejoin="miter"/>
<path d="M236.2 313.75L240.6 313.75L238.4 317.85Z" fill="none" stroke="#111" stroke-width="1.55" stroke-linejoin="miter"/>
<path d="M235.2 314.85L239.6 314.85L237.4 318.95Z" fill="none" stroke="#111" stroke-width="1.55" stroke-linejoin="miter"/>
<path d="M227.5 322.25L231.9 322.25L229.7 326.35Z" fill="none" stroke="#111" stroke-width="1.55" stroke-linejoin="miter"/>
<path d="M232.3 324.75L236.7 324.75L234.5 328.85Z" fill="none" stroke="#111" stroke-width="1.55" stroke-linejoin="miter"/>
<path d="M228.2 330.55L232.6 330.55L230.4 334.65Z" fill="none" stroke="#111" stroke-width="1.55" stroke-linejoin="miter"/>
<path d="M325.3 224.95L329.7 224.95L327.5 229.05Z" fill="none" stroke="#111" stroke-width="1.55" stroke-linejoin="miter"/>
<path d="M213.8 336.45L218.2 336.45L216 340.55Z" fill="none" stroke="#111" stroke-width="1.55" stroke-linejoin="miter"/>
<path d="M215.8 336.45L220.2 336.45L218 340.55Z" fill="none" stroke="#111" stroke-width="1.55" stroke-linejoin="miter"/>
<path d="M217.8 336.45L222.2 336.45L220 340.55Z" fill="none" stroke="#111" stroke-width="1.55" stroke-linejoin="miter"/>
<path d="M219.8 336.45L224.2 336.45L222 340.55Z" fill="none" stroke="#111" stroke-width="1.55" stroke-linejoin="miter"/>
<path d="M213.8 333.45L218.2 333.45L216 337.55Z" fill="none" stroke="#111" stroke-width="1.55" stroke-linejoin="miter"/>
<path d="M215.8 332.45L220.2 332.45L218 336.55Z" fill="none" stroke="#111" stroke-width="1.55" stroke-linejoin="miter"/>
<path d="M217.8 333.45L222.2 333.45L220 337.55Z" fill="none" stroke="#111" stroke-width="1.55" stroke-linejoin="miter"/>
<path d="M219.8 332.45L224.2 332.45L222 336.55Z" fill="none" stroke="#111" stroke-width="1.55" stroke-linejoin="miter"/>
<path d="M221.8 334.45L226.2 334.45L224 338.55Z" fill="none" stroke="#111" stroke-width="1.55" stroke-linejoin="miter"/>
<path d="M214.8 329.45L219.2 329.45L217 333.55Z" fill="none" stroke="#111" stroke-width="1.55" stroke-linejoin="miter"/>
<path d="M216.8 330.45L221.2 330.45L219 334.55Z" fill="none" stroke="#111" stroke-width="1.55" stroke-linejoin="miter"/>
<path d="M218.8 329.45L223.2 329.45L221 333.55Z" fill="none" stroke="#111" stroke-width="1.55" stroke-linejoin="miter"/>
<path d="M220.8 328.45L225.2 328.45L223 332.55Z" fill="none" stroke="#111" stroke-width="1.55" stroke-linejoin="miter"/>
<path d="M223.4 325.95L227.8 325.95L225.6 330.05Z" fill="none" stroke="#111" stroke-width="1.55" stroke-linejoin="miter"/>
<path d="M220.3 329.85L224.7 329.85L222.5 333.95Z" fill="none" stroke="#111" stroke-width="1.55" stroke-linejoin="miter"/>
<path d="M224.7 335.45L229.1 335.45L226.9 339.55Z" fill="none" stroke="#111" stroke-width="1.55" stroke-linejoin="miter"/>
<path d="M226.8 330.45L231.2 330.45L229 334.55Z" fill="none" stroke="#111" stroke-width="1.55" stroke-linejoin="miter"/>
<path d="M227.8 322.35L232.2 322.35L230 326.45Z" fill="none" stroke="#111" stroke-width="1.55" stroke-linejoin="miter"/>
<path d="M232.5 324.55L236.9 324.55L234.7 328.65Z" fill="none" stroke="#111" stroke-width="1.55" stroke-linejoin="miter"/>
<path d="M224.8 324.95L229.2 324.95L227 329.05Z" fill="none" stroke="#111" stroke-width="1.55" stroke-linejoin="miter"/>
<path d="M225.8 327.95L230.2 327.95L228 332.05Z" fill="none" stroke="#111" stroke-width="1.55" stroke-linejoin="miter"/>
<path d="M213.3 334.95L217.7 334.95L215.5 339.05Z" fill="none" stroke="#111" stroke-width="1.55" stroke-linejoin="miter"/>
<line x1="211.6" y1="221.5" x2="211.6" y2="343.85" stroke="#000" stroke-width="1.1"/>
<line x1="211.05" y1="343.3" x2="333.4" y2="343.3" stroke="#000" stroke-width="1.1"/>
<line x1="209.1" y1="337.5" x2="211.6" y2="337.5" stroke="#000" stroke-width="1.1"/>
<text transform="translate(207.6 342.03) scale(1 1.12)" font-size="11.3" fill="#4d4d4d" text-anchor="end">0</text>
<line x1="209.1" y1="314.04" x2="211.6" y2="314.04" stroke="#000" stroke-width="1.1"/>
<text transform="translate(207.6 318.57) scale(1 1.12)" font-size="11.3" fill="#4d4d4d" text-anchor="end">25</text>
<line x1="209.1" y1="290.57" x2="211.6" y2="290.57" stroke="#000" stroke-width="1.1"/>
<text transform="translate(207.6 295.11) scale(1 1.12)" font-size="11.3" fill="#4d4d4d" text-anchor="end">50</text>
<line x1="209.1" y1="267.11" x2="211.6" y2="267.11" stroke="#000" stroke-width="1.1"/>
<text transform="translate(207.6 271.64) scale(1 1.12)" font-size="11.3" fill="#4d4d4d" text-anchor="end">75</text>
<line x1="209.1" y1="243.65" x2="211.6" y2="243.65" stroke="#000" stroke-width="1.1"/>
<text transform="translate(207.6 248.18) scale(1 1.12)" font-size="11.3" fill="#4d4d4d" text-anchor="end">100</text>
<line x1="216.9" y1="343.3" x2="216.9" y2="345.8" stroke="#000" stroke-width="1.1"/>
<text transform="translate(216.9 356.73) scale(1 1.12)" font-size="11.3" fill="#4d4d4d" text-anchor="middle">0.0</text>
<line x1="249.18" y1="343.3" x2="249.18" y2="345.8" stroke="#000" stroke-width="1.1"/>
<text transform="translate(249.18 356.73) scale(1 1.12)" font-size="11.3" fill="#4d4d4d" text-anchor="middle">0.2</text>
<line x1="281.46" y1="343.3" x2="281.46" y2="345.8" stroke="#000" stroke-width="1.1"/>
<text transform="translate(281.46 356.73) scale(1 1.12)" font-size="11.3" fill="#4d4d4d" text-anchor="middle">0.4</text>
<line x1="313.74" y1="343.3" x2="313.74" y2="345.8" stroke="#000" stroke-width="1.1"/>
<text transform="translate(313.74 356.73) scale(1 1.12)" font-size="11.3" fill="#4d4d4d" text-anchor="middle">0.6</text>
<text x="272.5" y="217.5" font-size="12" fill="#000" text-anchor="middle">HA</text>
<text transform="translate(333.8 334.7) scale(1 1.07)" font-size="11.8" fill="#4d4d4d" text-anchor="end">ρ = 0.73</text>
<text x="193.5" y="369.5" font-size="12" fill="#000" text-anchor="middle">Harmonic mean branch length by <tspan font-weight="bold" fill="#18a284">SS2</tspan> (subs/site)</text>
<text x="27" y="282" font-size="12" fill="#000" text-anchor="middle" transform="rotate(-90 27 282)"># disagreements per</text>
<text x="39.6" y="282" font-size="12" fill="#000" text-anchor="middle" transform="rotate(-90 39.6 282)">node b/w <tspan font-weight="bold" fill="#2f80d2">SS1</tspan> and <tspan font-weight="bold" fill="#18a284">SS2</tspan></text>
<text x="345.5" y="207.6" font-size="16.8" fill="#000" font-weight="bold">(d)</text>
<line x1="399.5" y1="337.6" x2="517.6" y2="337.6" stroke="#dcdcdc" stroke-width="1.2"/>
<rect x="412" y="301.45" width="20.1" height="36.15" fill="#fff" stroke="#666" stroke-width="1.1"/>
<rect x="465.2" y="257.12" width="20.6" height="80.48" fill="#fff" stroke="#666" stroke-width="1.1"/>
<rect x="432.1" y="336.4" width="20.1" height="1.2" fill="#111" stroke="#111" stroke-width="1.1"/>
<rect x="485.8" y="336" width="20.2" height="1.6" fill="#111" stroke="#111" stroke-width="1.1"/>
<line x1="399.5" y1="221.5" x2="399.5" y2="343.85" stroke="#000" stroke-width="1.1"/>
<line x1="398.95" y1="343.3" x2="517.6" y2="343.3" stroke="#000" stroke-width="1.1"/>
<line x1="397" y1="337.6" x2="399.5" y2="337.6" stroke="#000" stroke-width="1.1"/>
<text transform="translate(395.5 342.13) scale(1 1.12)" font-size="11.3" fill="#4d4d4d" text-anchor="end">0</text>
<line x1="397" y1="294.56" x2="399.5" y2="294.56" stroke="#000" stroke-width="1.1"/>
<text transform="translate(395.5 299.09) scale(1 1.12)" font-size="11.3" fill="#4d4d4d" text-anchor="end">20</text>
<line x1="397" y1="251.52" x2="399.5" y2="251.52" stroke="#000" stroke-width="1.1"/>
<text transform="translate(395.5 256.05) scale(1 1.12)" font-size="11.3" fill="#4d4d4d" text-anchor="end">40</text>
<line x1="422.1" y1="343.3" x2="422.1" y2="345.8" stroke="#000" stroke-width="1.1"/>
<line x1="442.2" y1="343.3" x2="442.2" y2="345.8" stroke="#000" stroke-width="1.1"/>
<line x1="475.5" y1="343.3" x2="475.5" y2="345.8" stroke="#000" stroke-width="1.1"/>
<line x1="495.9" y1="343.3" x2="495.9" y2="345.8" stroke="#000" stroke-width="1.1"/>
<text x="432.1" y="288.2" font-size="12" fill="#000" text-anchor="middle">49</text>
<text x="432.1" y="299.1" font-size="10.5" fill="#000" text-anchor="middle">***</text>
<line x1="422" y1="296.9" x2="442.3" y2="296.9" stroke="#333" stroke-width="1"/>
<line x1="422" y1="296.4" x2="422" y2="298.9" stroke="#333" stroke-width="1"/>
<line x1="442.3" y1="296.4" x2="442.3" y2="298.9" stroke="#333" stroke-width="1"/>
<text x="485.8" y="243.3" font-size="12" fill="#000" text-anchor="middle">42</text>
<text x="485.8" y="255.4" font-size="10.5" fill="#000" text-anchor="middle">***</text>
<line x1="475.4" y1="252.4" x2="496" y2="252.4" stroke="#333" stroke-width="1"/>
<line x1="475.4" y1="251.9" x2="475.4" y2="254.4" stroke="#333" stroke-width="1"/>
<line x1="496" y1="251.9" x2="496" y2="254.4" stroke="#333" stroke-width="1"/>
<text x="422.2" y="356.3" font-size="12" fill="#4d4d4d" text-anchor="middle">A</text>
<text x="442" y="356.3" font-size="12" fill="#4d4d4d" text-anchor="middle">U</text>
<text x="475.8" y="356.3" font-size="12" fill="#4d4d4d" text-anchor="middle">A</text>
<text x="496" y="356.3" font-size="12" fill="#4d4d4d" text-anchor="middle">U</text>
<line x1="412" y1="358.75" x2="452.2" y2="358.75" stroke="#4d4d4d" stroke-width="1.1"/>
<line x1="465.2" y1="358.75" x2="506" y2="358.75" stroke="#4d4d4d" stroke-width="1.1"/>
<text x="432.1" y="369.7" font-size="12" fill="#000" text-anchor="middle">SR</text>
<text x="485.8" y="369.7" font-size="12" fill="#000" text-anchor="middle">HA</text>
<text x="363.3" y="284" font-size="12" fill="#000" text-anchor="middle" transform="rotate(-90 363.3 284)">Odds of disagreement</text>
<text x="376.3" y="284" font-size="12" fill="#000" text-anchor="middle" transform="rotate(-90 376.3 284)">b/w <tspan font-weight="bold" fill="#2f80d2">SS1</tspan> and <tspan font-weight="bold" fill="#18a284">SS2</tspan> (x100)</text>
<text x="530.5" y="214.8" font-size="16.8" fill="#000" font-weight="bold">(e)</text>
<line x1="581.38" y1="272" x2="581.38" y2="309.3" stroke="#6a6a6a" stroke-width="1.1"/>
<line x1="581.38" y1="335.7" x2="581.38" y2="336.2" stroke="#6a6a6a" stroke-width="1.1"/>
<rect x="575" y="309.3" width="12.75" height="26.4" fill="#e8e8e8" stroke="#5a5a5a" stroke-width="1.1"/>
<line x1="575" y1="332.9" x2="587.75" y2="332.9" stroke="#6a6a6a" stroke-width="1.2"/>
<line x1="595.2" y1="250" x2="595.2" y2="281" stroke="#6a6a6a" stroke-width="1.1"/>
<line x1="595.2" y1="318" x2="595.2" y2="333.4" stroke="#6a6a6a" stroke-width="1.1"/>
<rect x="589" y="281" width="12.4" height="37" fill="#5b5b5b" stroke="#3a3a3a" stroke-width="1.1"/>
<line x1="589" y1="302" x2="601.4" y2="302" stroke="#333" stroke-width="1.2"/>
<line x1="620.55" y1="291" x2="620.55" y2="316" stroke="#6a6a6a" stroke-width="1.1"/>
<line x1="620.55" y1="333.4" x2="620.55" y2="336.4" stroke="#6a6a6a" stroke-width="1.1"/>
<rect x="614.4" y="316" width="12.3" height="17.4" fill="#e8e8e8" stroke="#5a5a5a" stroke-width="1.1"/>
<line x1="614.4" y1="327.5" x2="626.7" y2="327.5" stroke="#6a6a6a" stroke-width="1.2"/>
<line x1="634.45" y1="266.6" x2="634.45" y2="297.3" stroke="#6a6a6a" stroke-width="1.1"/>
<line x1="634.45" y1="322.8" x2="634.45" y2="336.4" stroke="#6a6a6a" stroke-width="1.1"/>
<rect x="628" y="297.3" width="12.9" height="25.5" fill="#5b5b5b" stroke="#3a3a3a" stroke-width="1.1"/>
<line x1="628" y1="312.1" x2="640.9" y2="312.1" stroke="#333" stroke-width="1.2"/>
<circle cx="581.4" cy="263.3" r="1.3" fill="#333" stroke="none" stroke-width="1"/>
<circle cx="581.4" cy="250.3" r="1.3" fill="#333" stroke="none" stroke-width="1"/>
<circle cx="620.6" cy="266" r="1.15" fill="#333" stroke="none" stroke-width="1"/>
<circle cx="620.6" cy="267.3" r="1.15" fill="#333" stroke="none" stroke-width="1"/>
<circle cx="620.6" cy="268.6" r="1.15" fill="#333" stroke="none" stroke-width="1"/>
<circle cx="620.6" cy="269.9" r="1.15" fill="#333" stroke="none" stroke-width="1"/>
<circle cx="620.6" cy="271.2" r="1.15" fill="#333" stroke="none" stroke-width="1"/>
<circle cx="620.6" cy="272.5" r="1.15" fill="#333" stroke="none" stroke-width="1"/>
<circle cx="620.6" cy="273.8" r="1.15" fill="#333" stroke="none" stroke-width="1"/>
<circle cx="620.6" cy="275.1" r="1.15" fill="#333" stroke="none" stroke-width="1"/>
<circle cx="620.6" cy="276.4" r="1.15" fill="#333" stroke="none" stroke-width="1"/>
<circle cx="620.6" cy="284.4" r="1.15" fill="#333" stroke="none" stroke-width="1"/>
<circle cx="620.6" cy="288" r="1.15" fill="#333" stroke="none" stroke-width="1"/>
<circle cx="620.6" cy="291.5" r="1.15" fill="#333" stroke="none" stroke-width="1"/>
<line x1="581.4" y1="243.7" x2="595" y2="243.7" stroke="#333" stroke-width="1"/>
<line x1="581.4" y1="243.2" x2="581.4" y2="245.7" stroke="#333" stroke-width="1"/>
<line x1="595" y1="243.2" x2="595" y2="245.7" stroke="#333" stroke-width="1"/>
<text x="588.2" y="241.7" font-size="10.5" fill="#000" text-anchor="middle">***</text>
<line x1="620.8" y1="260.8" x2="634.5" y2="260.8" stroke="#333" stroke-width="1"/>
<line x1="620.8" y1="260.3" x2="620.8" y2="262.8" stroke="#333" stroke-width="1"/>
<line x1="634.5" y1="260.3" x2="634.5" y2="262.8" stroke="#333" stroke-width="1"/>
<text x="627.65" y="258.3" font-size="10.5" fill="#000" text-anchor="middle">***</text>
<line x1="562.5" y1="221.5" x2="562.5" y2="343.65" stroke="#000" stroke-width="1.1"/>
<line x1="561.95" y1="343.1" x2="652.2" y2="343.1" stroke="#000" stroke-width="1.1"/>
<line x1="560" y1="337.2" x2="562.5" y2="337.2" stroke="#000" stroke-width="1.1"/>
<text transform="translate(558.5 341.73) scale(1 1.12)" font-size="11.3" fill="#4d4d4d" text-anchor="end">0</text>
<line x1="560" y1="303.24" x2="562.5" y2="303.24" stroke="#000" stroke-width="1.1"/>
<text transform="translate(558.5 307.77) scale(1 1.12)" font-size="11.3" fill="#4d4d4d" text-anchor="end">2</text>
<line x1="560" y1="269.28" x2="562.5" y2="269.28" stroke="#000" stroke-width="1.1"/>
<text transform="translate(558.5 273.81) scale(1 1.12)" font-size="11.3" fill="#4d4d4d" text-anchor="end">4</text>
<line x1="560" y1="235.32" x2="562.5" y2="235.32" stroke="#000" stroke-width="1.1"/>
<text transform="translate(558.5 239.85) scale(1 1.12)" font-size="11.3" fill="#4d4d4d" text-anchor="end">6</text>
<line x1="588.2" y1="343.1" x2="588.2" y2="345.6" stroke="#000" stroke-width="1.1"/>
<line x1="627.6" y1="343.1" x2="627.6" y2="345.6" stroke="#000" stroke-width="1.1"/>
<text x="588.2" y="356.2" font-size="12" fill="#4d4d4d" text-anchor="middle">SR</text>
<text x="627.6" y="356.2" font-size="12" fill="#4d4d4d" text-anchor="middle">HA</text>
<line x1="567.2" y1="358.6" x2="649.4" y2="358.6" stroke="#000" stroke-width="1.1"/>
<text x="606.9" y="369.6" font-size="12" fill="#000" text-anchor="middle"><tspan font-weight="bold" fill="#2f80d2">SS1</tspan> vs <tspan font-weight="bold" fill="#18a284">SS2</tspan></text>
<text x="547.6" y="282.6" font-size="12" fill="#000" text-anchor="middle" transform="rotate(-90 547.6 282.6)">Rate of evolution</text>
<text x="667.75" y="214.8" font-size="16.8" fill="#000" font-weight="bold">(f)</text>
<line x1="726.95" y1="267.3" x2="726.95" y2="294.6" stroke="#6a6a6a" stroke-width="1.1"/>
<line x1="726.95" y1="337.4" x2="726.95" y2="337.4" stroke="#6a6a6a" stroke-width="1.1"/>
<rect x="720.5" y="294.6" width="12.9" height="42.8" fill="#e8e8e8" stroke="#5a5a5a" stroke-width="1.1"/>
<line x1="720.5" y1="317.6" x2="733.4" y2="317.6" stroke="#6a6a6a" stroke-width="1.2"/>
<line x1="740.65" y1="267.3" x2="740.65" y2="279.4" stroke="#6a6a6a" stroke-width="1.1"/>
<line x1="740.65" y1="298.3" x2="740.65" y2="313.8" stroke="#6a6a6a" stroke-width="1.1"/>
<rect x="734.4" y="279.4" width="12.5" height="18.9" fill="#5b5b5b" stroke="#3a3a3a" stroke-width="1.1"/>
<line x1="734.4" y1="282.4" x2="746.9" y2="282.4" stroke="#333" stroke-width="1.2"/>
<line x1="766.55" y1="245.3" x2="766.55" y2="283.1" stroke="#6a6a6a" stroke-width="1.1"/>
<line x1="766.55" y1="323.7" x2="766.55" y2="337.4" stroke="#6a6a6a" stroke-width="1.1"/>
<rect x="761" y="283.1" width="11.1" height="40.6" fill="#e8e8e8" stroke="#5a5a5a" stroke-width="1.1"/>
<line x1="761" y1="300.8" x2="772.1" y2="300.8" stroke="#6a6a6a" stroke-width="1.2"/>
<line x1="780.2" y1="245.3" x2="780.2" y2="268.2" stroke="#6a6a6a" stroke-width="1.1"/>
<line x1="780.2" y1="293.7" x2="780.2" y2="329.2" stroke="#6a6a6a" stroke-width="1.1"/>
<rect x="773.8" y="268.2" width="12.8" height="25.5" fill="#5b5b5b" stroke="#3a3a3a" stroke-width="1.1"/>
<line x1="773.8" y1="279.6" x2="786.6" y2="279.6" stroke="#333" stroke-width="1.2"/>
<circle cx="740.6" cy="331.3" r="1.1" fill="#333" stroke="none" stroke-width="1"/>
<circle cx="780.2" cy="333.4" r="1.1" fill="#333" stroke="none" stroke-width="1"/>
<line x1="726.8" y1="260.2" x2="740.7" y2="260.2" stroke="#333" stroke-width="1"/>
<line x1="726.8" y1="259.7" x2="726.8" y2="262.2" stroke="#333" stroke-width="1"/>
<line x1="740.7" y1="259.7" x2="740.7" y2="262.2" stroke="#333" stroke-width="1"/>
<text x="733.75" y="257.8" font-size="10.5" fill="#000" text-anchor="middle">***</text>
<line x1="766.2" y1="237.8" x2="780.4" y2="237.8" stroke="#333" stroke-width="1"/>
<line x1="766.2" y1="237.3" x2="766.2" y2="239.8" stroke="#333" stroke-width="1"/>
<line x1="780.4" y1="237.3" x2="780.4" y2="239.8" stroke="#333" stroke-width="1"/>
<text x="773.3" y="236" font-size="10.5" fill="#000" text-anchor="middle">***</text>
<line x1="708.5" y1="221.5" x2="708.5" y2="343.85" stroke="#000" stroke-width="1.1"/>
<line x1="707.95" y1="343.3" x2="798.8" y2="343.3" stroke="#000" stroke-width="1.1"/>
<line x1="706" y1="337.4" x2="708.5" y2="337.4" stroke="#000" stroke-width="1.1"/>
<text transform="translate(704.5 341.93) scale(1 1.12)" font-size="11.3" fill="#4d4d4d" text-anchor="end">0.0</text>
<line x1="706" y1="282.7" x2="708.5" y2="282.7" stroke="#000" stroke-width="1.1"/>
<text transform="translate(704.5 287.23) scale(1 1.12)" font-size="11.3" fill="#4d4d4d" text-anchor="end">0.5</text>
<line x1="706" y1="228" x2="708.5" y2="228" stroke="#000" stroke-width="1.1"/>
<text transform="translate(704.5 232.53) scale(1 1.12)" font-size="11.3" fill="#4d4d4d" text-anchor="end">1.0</text>
<line x1="733.6" y1="343.3" x2="733.6" y2="345.8" stroke="#000" stroke-width="1.1"/>
<line x1="773.3" y1="343.3" x2="773.3" y2="345.8" stroke="#000" stroke-width="1.1"/>
<text x="733.6" y="356.2" font-size="12" fill="#4d4d4d" text-anchor="middle">SR</text>
<text x="773.3" y="356.2" font-size="12" fill="#4d4d4d" text-anchor="middle">HA</text>
<line x1="712.4" y1="358.6" x2="795" y2="358.6" stroke="#000" stroke-width="1.1"/>
<text x="753.2" y="369.6" font-size="12" fill="#000" text-anchor="middle"><tspan font-weight="bold" fill="#2f80d2">SS1</tspan> vs <tspan font-weight="bold" fill="#18a284">SS2</tspan></text>
<text x="683" y="282.4" font-size="12" fill="#000" text-anchor="middle" transform="rotate(-90 683 282.4)">Sequence entropy</text>
<text x="1.5" y="396.3" font-size="16.8" fill="#000" font-weight="bold">(g)</text>
<line x1="60.7" y1="492.7" x2="185.5" y2="492.7" stroke="#8a8a8a" stroke-width="0.9" stroke-dasharray="4 4.75"/>
<line x1="60.7" y1="465" x2="185.5" y2="465" stroke="#8a8a8a" stroke-width="0.9" stroke-dasharray="4 4.75"/>
<line x1="60.7" y1="437.3" x2="185.5" y2="437.3" stroke="#8a8a8a" stroke-width="0.9" stroke-dasharray="4 4.75"/>
<line x1="60.7" y1="409.6" x2="185.5" y2="409.6" stroke="#8a8a8a" stroke-width="0.9" stroke-dasharray="4 4.75"/>
<rect x="64.8" y="410.71" width="8" height="109.69" fill="#2a88e0" stroke="#0d1b2a" stroke-width="1.1"/>
<rect x="72.8" y="410.38" width="8" height="110.02" fill="#0fb097" stroke="#0d1b2a" stroke-width="1.1"/>
<line x1="68.8" y1="409.6" x2="68.8" y2="411.82" stroke="#222" stroke-width="0.95"/>
<line x1="67.9" y1="409.6" x2="69.7" y2="409.6" stroke="#222" stroke-width="0.9"/>
<line x1="67.9" y1="411.82" x2="69.7" y2="411.82" stroke="#222" stroke-width="0.9"/>
<line x1="76.8" y1="409.49" x2="76.8" y2="411.26" stroke="#222" stroke-width="0.95"/>
<line x1="75.9" y1="409.49" x2="77.7" y2="409.49" stroke="#222" stroke-width="0.9"/>
<line x1="75.9" y1="411.26" x2="77.7" y2="411.26" stroke="#222" stroke-width="0.9"/>
<rect x="84.93" y="412.92" width="8" height="107.48" fill="#2a88e0" stroke="#0d1b2a" stroke-width="1.1"/>
<rect x="92.93" y="412.92" width="8" height="107.48" fill="#0fb097" stroke="#0d1b2a" stroke-width="1.1"/>
<line x1="88.93" y1="409.6" x2="88.93" y2="416.25" stroke="#222" stroke-width="0.95"/>
<line x1="88.03" y1="409.6" x2="89.83" y2="409.6" stroke="#222" stroke-width="0.9"/>
<line x1="88.03" y1="416.25" x2="89.83" y2="416.25" stroke="#222" stroke-width="0.9"/>
<line x1="96.93" y1="409.6" x2="96.93" y2="416.25" stroke="#222" stroke-width="0.95"/>
<line x1="96.03" y1="409.6" x2="97.83" y2="409.6" stroke="#222" stroke-width="0.9"/>
<line x1="96.03" y1="416.25" x2="97.83" y2="416.25" stroke="#222" stroke-width="0.9"/>
<rect x="105.06" y="419.02" width="8" height="101.38" fill="#2a88e0" stroke="#0d1b2a" stroke-width="1.1"/>
<rect x="113.06" y="418.46" width="8" height="101.94" fill="#0fb097" stroke="#0d1b2a" stroke-width="1.1"/>
<line x1="109.06" y1="415.69" x2="109.06" y2="422.34" stroke="#222" stroke-width="0.95"/>
<line x1="108.16" y1="415.69" x2="109.96" y2="415.69" stroke="#222" stroke-width="0.9"/>
<line x1="108.16" y1="422.34" x2="109.96" y2="422.34" stroke="#222" stroke-width="0.9"/>
<line x1="117.06" y1="415.14" x2="117.06" y2="421.79" stroke="#222" stroke-width="0.95"/>
<line x1="116.16" y1="415.14" x2="117.96" y2="415.14" stroke="#222" stroke-width="0.9"/>
<line x1="116.16" y1="421.79" x2="117.96" y2="421.79" stroke="#222" stroke-width="0.9"/>
<rect x="125.19" y="429.54" width="8" height="90.86" fill="#2a88e0" stroke="#0d1b2a" stroke-width="1.1"/>
<rect x="133.19" y="428.44" width="8" height="91.96" fill="#0fb097" stroke="#0d1b2a" stroke-width="1.1"/>
<line x1="129.19" y1="424.56" x2="129.19" y2="434.53" stroke="#222" stroke-width="0.95"/>
<line x1="128.29" y1="424.56" x2="130.09" y2="424.56" stroke="#222" stroke-width="0.9"/>
<line x1="128.29" y1="434.53" x2="130.09" y2="434.53" stroke="#222" stroke-width="0.9"/>
<line x1="137.19" y1="423.45" x2="137.19" y2="433.42" stroke="#222" stroke-width="0.95"/>
<line x1="136.29" y1="423.45" x2="138.09" y2="423.45" stroke="#222" stroke-width="0.9"/>
<line x1="136.29" y1="433.42" x2="138.09" y2="433.42" stroke="#222" stroke-width="0.9"/>
<rect x="145.32" y="442.29" width="8" height="78.11" fill="#2a88e0" stroke="#0d1b2a" stroke-width="1.1"/>
<rect x="153.32" y="440.62" width="8" height="79.78" fill="#0fb097" stroke="#0d1b2a" stroke-width="1.1"/>
<line x1="149.32" y1="436.75" x2="149.32" y2="447.83" stroke="#222" stroke-width="0.95"/>
<line x1="148.42" y1="436.75" x2="150.22" y2="436.75" stroke="#222" stroke-width="0.9"/>
<line x1="148.42" y1="447.83" x2="150.22" y2="447.83" stroke="#222" stroke-width="0.9"/>
<line x1="157.32" y1="435.08" x2="157.32" y2="446.16" stroke="#222" stroke-width="0.95"/>
<line x1="156.42" y1="435.08" x2="158.22" y2="435.08" stroke="#222" stroke-width="0.9"/>
<line x1="156.42" y1="446.16" x2="158.22" y2="446.16" stroke="#222" stroke-width="0.9"/>
<rect x="165.45" y="455.58" width="8" height="64.82" fill="#2a88e0" stroke="#0d1b2a" stroke-width="1.1"/>
<rect x="173.45" y="453.92" width="8" height="66.48" fill="#0fb097" stroke="#0d1b2a" stroke-width="1.1"/>
<line x1="169.45" y1="449.27" x2="169.45" y2="461.9" stroke="#222" stroke-width="0.95"/>
<line x1="168.55" y1="449.27" x2="170.35" y2="449.27" stroke="#222" stroke-width="0.9"/>
<line x1="168.55" y1="461.9" x2="170.35" y2="461.9" stroke="#222" stroke-width="0.9"/>
<line x1="177.45" y1="448.38" x2="177.45" y2="459.46" stroke="#222" stroke-width="0.95"/>
<line x1="176.55" y1="448.38" x2="178.35" y2="448.38" stroke="#222" stroke-width="0.9"/>
<line x1="176.55" y1="459.46" x2="178.35" y2="459.46" stroke="#222" stroke-width="0.9"/>
<line x1="60.7" y1="520.4" x2="185.5" y2="520.4" stroke="#000" stroke-width="1.7"/>
<line x1="60.7" y1="403.75" x2="60.7" y2="526.55" stroke="#000" stroke-width="1.1"/>
<line x1="60.15" y1="526" x2="185.5" y2="526" stroke="#000" stroke-width="1.1"/>
<line x1="58.2" y1="520.4" x2="60.7" y2="520.4" stroke="#000" stroke-width="1.1"/>
<text transform="translate(56.7 524.93) scale(1 1.12)" font-size="11.3" fill="#4d4d4d" text-anchor="end">0</text>
<line x1="58.2" y1="492.7" x2="60.7" y2="492.7" stroke="#000" stroke-width="1.1"/>
<text transform="translate(56.7 497.23) scale(1 1.12)" font-size="11.3" fill="#4d4d4d" text-anchor="end">25</text>
<line x1="58.2" y1="465" x2="60.7" y2="465" stroke="#000" stroke-width="1.1"/>
<text transform="translate(56.7 469.53) scale(1 1.12)" font-size="11.3" fill="#4d4d4d" text-anchor="end">50</text>
<line x1="58.2" y1="437.3" x2="60.7" y2="437.3" stroke="#000" stroke-width="1.1"/>
<text transform="translate(56.7 441.83) scale(1 1.12)" font-size="11.3" fill="#4d4d4d" text-anchor="end">75</text>
<line x1="58.2" y1="409.6" x2="60.7" y2="409.6" stroke="#000" stroke-width="1.1"/>
<text transform="translate(56.7 414.13) scale(1 1.12)" font-size="11.3" fill="#4d4d4d" text-anchor="end">100</text>
<line x1="72.8" y1="526" x2="72.8" y2="528.5" stroke="#000" stroke-width="1.1"/>
<text transform="translate(72.8 539.33) scale(1 1.12)" font-size="11.3" fill="#4d4d4d" text-anchor="middle">0.05</text>
<line x1="92.93" y1="526" x2="92.93" y2="528.5" stroke="#000" stroke-width="1.1"/>
<text transform="translate(92.93 539.33) scale(1 1.12)" font-size="11.3" fill="#4d4d4d" text-anchor="middle">0.1</text>
<line x1="113.06" y1="526" x2="113.06" y2="528.5" stroke="#000" stroke-width="1.1"/>
<text transform="translate(113.06 539.33) scale(1 1.12)" font-size="11.3" fill="#4d4d4d" text-anchor="middle">0.2</text>
<line x1="133.19" y1="526" x2="133.19" y2="528.5" stroke="#000" stroke-width="1.1"/>
<text transform="translate(133.19 539.33) scale(1 1.12)" font-size="11.3" fill="#4d4d4d" text-anchor="middle">0.4</text>
<line x1="153.32" y1="526" x2="153.32" y2="528.5" stroke="#000" stroke-width="1.1"/>
<text transform="translate(153.32 539.33) scale(1 1.12)" font-size="11.3" fill="#4d4d4d" text-anchor="middle">0.8</text>
<line x1="173.45" y1="526" x2="173.45" y2="528.5" stroke="#000" stroke-width="1.1"/>
<text transform="translate(173.45 539.33) scale(1 1.12)" font-size="11.3" fill="#4d4d4d" text-anchor="middle">1.6</text>
<line x1="60.7" y1="642.47" x2="185.5" y2="642.47" stroke="#8a8a8a" stroke-width="0.9" stroke-dasharray="4 4.75"/>
<line x1="60.7" y1="614.15" x2="185.5" y2="614.15" stroke="#8a8a8a" stroke-width="0.9" stroke-dasharray="4 4.75"/>
<line x1="60.7" y1="585.82" x2="185.5" y2="585.82" stroke="#8a8a8a" stroke-width="0.9" stroke-dasharray="4 4.75"/>
<line x1="60.7" y1="557.5" x2="185.5" y2="557.5" stroke="#8a8a8a" stroke-width="0.9" stroke-dasharray="4 4.75"/>
<rect x="64.8" y="558.07" width="8" height="112.73" fill="#2a88e0" stroke="#0d1b2a" stroke-width="1.1"/>
<rect x="72.8" y="558.07" width="8" height="112.73" fill="#0fb097" stroke="#0d1b2a" stroke-width="1.1"/>
<line x1="68.8" y1="557.73" x2="68.8" y2="558.41" stroke="#222" stroke-width="0.95"/>
<line x1="67.9" y1="557.73" x2="69.7" y2="557.73" stroke="#222" stroke-width="0.9"/>
<line x1="67.9" y1="558.41" x2="69.7" y2="558.41" stroke="#222" stroke-width="0.9"/>
<line x1="76.8" y1="557.73" x2="76.8" y2="558.41" stroke="#222" stroke-width="0.95"/>
<line x1="75.9" y1="557.73" x2="77.7" y2="557.73" stroke="#222" stroke-width="0.9"/>
<line x1="75.9" y1="558.41" x2="77.7" y2="558.41" stroke="#222" stroke-width="0.9"/>
<rect x="84.93" y="560.33" width="8" height="110.47" fill="#2a88e0" stroke="#0d1b2a" stroke-width="1.1"/>
<rect x="92.93" y="560.33" width="8" height="110.47" fill="#0fb097" stroke="#0d1b2a" stroke-width="1.1"/>
<line x1="88.93" y1="559.54" x2="88.93" y2="561.13" stroke="#222" stroke-width="0.95"/>
<line x1="88.03" y1="559.54" x2="89.83" y2="559.54" stroke="#222" stroke-width="0.9"/>
<line x1="88.03" y1="561.13" x2="89.83" y2="561.13" stroke="#222" stroke-width="0.9"/>
<line x1="96.93" y1="559.54" x2="96.93" y2="561.13" stroke="#222" stroke-width="0.95"/>
<line x1="96.03" y1="559.54" x2="97.83" y2="559.54" stroke="#222" stroke-width="0.9"/>
<line x1="96.03" y1="561.13" x2="97.83" y2="561.13" stroke="#222" stroke-width="0.9"/>
<rect x="105.06" y="565.43" width="8" height="105.37" fill="#2a88e0" stroke="#0d1b2a" stroke-width="1.1"/>
<rect x="113.06" y="565.43" width="8" height="105.37" fill="#0fb097" stroke="#0d1b2a" stroke-width="1.1"/>
<line x1="109.06" y1="564.3" x2="109.06" y2="566.56" stroke="#222" stroke-width="0.95"/>
<line x1="108.16" y1="564.3" x2="109.96" y2="564.3" stroke="#222" stroke-width="0.9"/>
<line x1="108.16" y1="566.56" x2="109.96" y2="566.56" stroke="#222" stroke-width="0.9"/>
<line x1="117.06" y1="564.3" x2="117.06" y2="566.56" stroke="#222" stroke-width="0.95"/>
<line x1="116.16" y1="564.3" x2="117.96" y2="564.3" stroke="#222" stroke-width="0.9"/>
<line x1="116.16" y1="566.56" x2="117.96" y2="566.56" stroke="#222" stroke-width="0.9"/>
<rect x="125.19" y="575.63" width="8" height="95.17" fill="#2a88e0" stroke="#0d1b2a" stroke-width="1.1"/>
<rect x="133.19" y="575.63" width="8" height="95.17" fill="#0fb097" stroke="#0d1b2a" stroke-width="1.1"/>
<line x1="129.19" y1="574.16" x2="129.19" y2="577.1" stroke="#222" stroke-width="0.95"/>
<line x1="128.29" y1="574.16" x2="130.09" y2="574.16" stroke="#222" stroke-width="0.9"/>
<line x1="128.29" y1="577.1" x2="130.09" y2="577.1" stroke="#222" stroke-width="0.9"/>
<line x1="137.19" y1="574.16" x2="137.19" y2="577.1" stroke="#222" stroke-width="0.95"/>
<line x1="136.29" y1="574.16" x2="138.09" y2="574.16" stroke="#222" stroke-width="0.9"/>
<line x1="136.29" y1="577.1" x2="138.09" y2="577.1" stroke="#222" stroke-width="0.9"/>
<rect x="145.32" y="589.79" width="8" height="81.01" fill="#2a88e0" stroke="#0d1b2a" stroke-width="1.1"/>
<rect x="153.32" y="590.36" width="8" height="80.44" fill="#0fb097" stroke="#0d1b2a" stroke-width="1.1"/>
<line x1="149.32" y1="588.09" x2="149.32" y2="591.49" stroke="#222" stroke-width="0.95"/>
<line x1="148.42" y1="588.09" x2="150.22" y2="588.09" stroke="#222" stroke-width="0.9"/>
<line x1="148.42" y1="591.49" x2="150.22" y2="591.49" stroke="#222" stroke-width="0.9"/>
<line x1="157.32" y1="588.66" x2="157.32" y2="592.06" stroke="#222" stroke-width="0.95"/>
<line x1="156.42" y1="588.66" x2="158.22" y2="588.66" stroke="#222" stroke-width="0.9"/>
<line x1="156.42" y1="592.06" x2="158.22" y2="592.06" stroke="#222" stroke-width="0.9"/>
<rect x="165.45" y="605.09" width="8" height="65.71" fill="#2a88e0" stroke="#0d1b2a" stroke-width="1.1"/>
<rect x="173.45" y="606.22" width="8" height="64.58" fill="#0fb097" stroke="#0d1b2a" stroke-width="1.1"/>
<line x1="169.45" y1="603.39" x2="169.45" y2="606.79" stroke="#222" stroke-width="0.95"/>
<line x1="168.55" y1="603.39" x2="170.35" y2="603.39" stroke="#222" stroke-width="0.9"/>
<line x1="168.55" y1="606.79" x2="170.35" y2="606.79" stroke="#222" stroke-width="0.9"/>
<line x1="177.45" y1="604.52" x2="177.45" y2="607.92" stroke="#222" stroke-width="0.95"/>
<line x1="176.55" y1="604.52" x2="178.35" y2="604.52" stroke="#222" stroke-width="0.9"/>
<line x1="176.55" y1="607.92" x2="178.35" y2="607.92" stroke="#222" stroke-width="0.9"/>
<line x1="60.7" y1="670.8" x2="185.5" y2="670.8" stroke="#000" stroke-width="1.7"/>
<line x1="60.7" y1="552.5" x2="60.7" y2="676.65" stroke="#000" stroke-width="1.1"/>
<line x1="60.15" y1="676.1" x2="185.5" y2="676.1" stroke="#000" stroke-width="1.1"/>
<line x1="58.2" y1="670.8" x2="60.7" y2="670.8" stroke="#000" stroke-width="1.1"/>
<text transform="translate(56.7 675.33) scale(1 1.12)" font-size="11.3" fill="#4d4d4d" text-anchor="end">0</text>
<line x1="58.2" y1="642.47" x2="60.7" y2="642.47" stroke="#000" stroke-width="1.1"/>
<text transform="translate(56.7 647.01) scale(1 1.12)" font-size="11.3" fill="#4d4d4d" text-anchor="end">25</text>
<line x1="58.2" y1="614.15" x2="60.7" y2="614.15" stroke="#000" stroke-width="1.1"/>
<text transform="translate(56.7 618.68) scale(1 1.12)" font-size="11.3" fill="#4d4d4d" text-anchor="end">50</text>
<line x1="58.2" y1="585.82" x2="60.7" y2="585.82" stroke="#000" stroke-width="1.1"/>
<text transform="translate(56.7 590.36) scale(1 1.12)" font-size="11.3" fill="#4d4d4d" text-anchor="end">75</text>
<line x1="58.2" y1="557.5" x2="60.7" y2="557.5" stroke="#000" stroke-width="1.1"/>
<text transform="translate(56.7 562.03) scale(1 1.12)" font-size="11.3" fill="#4d4d4d" text-anchor="end">100</text>
<line x1="72.8" y1="676.1" x2="72.8" y2="678.6" stroke="#000" stroke-width="1.1"/>
<text transform="translate(72.8 689.43) scale(1 1.12)" font-size="11.3" fill="#4d4d4d" text-anchor="middle">0.05</text>
<line x1="92.93" y1="676.1" x2="92.93" y2="678.6" stroke="#000" stroke-width="1.1"/>
<text transform="translate(92.93 689.43) scale(1 1.12)" font-size="11.3" fill="#4d4d4d" text-anchor="middle">0.1</text>
<line x1="113.06" y1="676.1" x2="113.06" y2="678.6" stroke="#000" stroke-width="1.1"/>
<text transform="translate(113.06 689.43) scale(1 1.12)" font-size="11.3" fill="#4d4d4d" text-anchor="middle">0.2</text>
<line x1="133.19" y1="676.1" x2="133.19" y2="678.6" stroke="#000" stroke-width="1.1"/>
<text transform="translate(133.19 689.43) scale(1 1.12)" font-size="11.3" fill="#4d4d4d" text-anchor="middle">0.4</text>
<line x1="153.32" y1="676.1" x2="153.32" y2="678.6" stroke="#000" stroke-width="1.1"/>
<text transform="translate(153.32 689.43) scale(1 1.12)" font-size="11.3" fill="#4d4d4d" text-anchor="middle">0.8</text>
<line x1="173.45" y1="676.1" x2="173.45" y2="678.6" stroke="#000" stroke-width="1.1"/>
<text transform="translate(173.45 689.43) scale(1 1.12)" font-size="11.3" fill="#4d4d4d" text-anchor="middle">1.6</text>
<text x="19.8" y="465" font-size="12" fill="#000" text-anchor="middle" transform="rotate(-90 19.8 465)"><tspan font-weight="bold">SR</tspan> (1000 reps)</text>
<text x="34.4" y="465" font-size="12" fill="#000" text-anchor="middle" transform="rotate(-90 34.4 465)">ASR accuracy (%)</text>
<text x="19.8" y="614" font-size="12" fill="#000" text-anchor="middle" transform="rotate(-90 19.8 614)"><tspan font-weight="bold">HA</tspan> (100 reps)</text>
<text x="34.4" y="614" font-size="12" fill="#000" text-anchor="middle" transform="rotate(-90 34.4 614)">ASR accuracy (%)</text>
<text x="123" y="703.7" font-size="12" fill="#000" text-anchor="middle">Branch length</text>
<text x="123" y="717.1" font-size="12" fill="#000" text-anchor="middle">(subs/site)</text>
<text x="198.75" y="396.3" font-size="16.8" fill="#000" font-weight="bold">(h)</text>
<line x1="241.2" y1="526.07" x2="365.74" y2="402.2" stroke="#9a9a9a" stroke-width="1"/>
<circle cx="248.79" cy="517.63" r="2.9" fill="none" stroke="#2a7cd4" stroke-width="1.55"/>
<circle cx="254.6" cy="511.29" r="2.9" fill="none" stroke="#2a7cd4" stroke-width="1.55"/>
<circle cx="259.97" cy="505.84" r="2.9" fill="none" stroke="#2a7cd4" stroke-width="1.55"/>
<circle cx="265.67" cy="500.51" r="2.9" fill="none" stroke="#2a7cd4" stroke-width="1.55"/>
<circle cx="271.6" cy="496.28" r="2.9" fill="none" stroke="#2a7cd4" stroke-width="1.55"/>
<circle cx="276.96" cy="491.5" r="2.9" fill="none" stroke="#2a7cd4" stroke-width="1.55"/>
<circle cx="283" cy="488.27" r="2.9" fill="none" stroke="#2a7cd4" stroke-width="1.55"/>
<circle cx="288.37" cy="483.72" r="2.9" fill="none" stroke="#2a7cd4" stroke-width="1.55"/>
<circle cx="294.07" cy="481.05" r="2.9" fill="none" stroke="#2a7cd4" stroke-width="1.55"/>
<circle cx="299.43" cy="474.93" r="2.9" fill="none" stroke="#2a7cd4" stroke-width="1.55"/>
<circle cx="305.25" cy="469.82" r="2.9" fill="none" stroke="#2a7cd4" stroke-width="1.55"/>
<circle cx="310.84" cy="465.7" r="2.9" fill="none" stroke="#2a7cd4" stroke-width="1.55"/>
<circle cx="316.76" cy="460.47" r="2.9" fill="none" stroke="#2a7cd4" stroke-width="1.55"/>
<circle cx="322.35" cy="454.47" r="2.9" fill="none" stroke="#2a7cd4" stroke-width="1.55"/>
<circle cx="327.72" cy="449.47" r="2.9" fill="none" stroke="#2a7cd4" stroke-width="1.55"/>
<circle cx="333.31" cy="443.68" r="2.9" fill="none" stroke="#2a7cd4" stroke-width="1.55"/>
<circle cx="339.01" cy="438.35" r="2.9" fill="none" stroke="#2a7cd4" stroke-width="1.55"/>
<circle cx="344.94" cy="431.12" r="2.9" fill="none" stroke="#2a7cd4" stroke-width="1.55"/>
<circle cx="350.19" cy="423.89" r="2.9" fill="none" stroke="#2a7cd4" stroke-width="1.55"/>
<circle cx="356.12" cy="419" r="2.9" fill="none" stroke="#2a7cd4" stroke-width="1.55"/>
<path d="M244.79 515.07L252.79 515.07L248.79 521.97Z" fill="none" stroke="#16a084" stroke-width="1.55" stroke-linejoin="round"/>
<path d="M250.6 507.84L258.6 507.84L254.6 514.74Z" fill="none" stroke="#16a084" stroke-width="1.55" stroke-linejoin="round"/>
<path d="M255.97 502.39L263.97 502.39L259.97 509.29Z" fill="none" stroke="#16a084" stroke-width="1.55" stroke-linejoin="round"/>
<path d="M261.67 497.95L269.67 497.95L265.67 504.85Z" fill="none" stroke="#16a084" stroke-width="1.55" stroke-linejoin="round"/>
<path d="M267.6 493.39L275.6 493.39L271.6 500.29Z" fill="none" stroke="#16a084" stroke-width="1.55" stroke-linejoin="round"/>
<path d="M272.96 488.94L280.96 488.94L276.96 495.84Z" fill="none" stroke="#16a084" stroke-width="1.55" stroke-linejoin="round"/>
<path d="M279 487.16L287 487.16L283 494.06Z" fill="none" stroke="#16a084" stroke-width="1.55" stroke-linejoin="round"/>
<path d="M284.37 485.27L292.37 485.27L288.37 492.17Z" fill="none" stroke="#16a084" stroke-width="1.55" stroke-linejoin="round"/>
<path d="M290.07 482.6L298.07 482.6L294.07 489.5Z" fill="none" stroke="#16a084" stroke-width="1.55" stroke-linejoin="round"/>
<path d="M295.43 476.26L303.43 476.26L299.43 483.16Z" fill="none" stroke="#16a084" stroke-width="1.55" stroke-linejoin="round"/>
<path d="M301.25 471.26L309.25 471.26L305.25 478.16Z" fill="none" stroke="#16a084" stroke-width="1.55" stroke-linejoin="round"/>
<path d="M306.84 467.7L314.84 467.7L310.84 474.6Z" fill="none" stroke="#16a084" stroke-width="1.55" stroke-linejoin="round"/>
<path d="M312.76 462.81L320.76 462.81L316.76 469.71Z" fill="none" stroke="#16a084" stroke-width="1.55" stroke-linejoin="round"/>
<path d="M318.35 457.36L326.35 457.36L322.35 464.26Z" fill="none" stroke="#16a084" stroke-width="1.55" stroke-linejoin="round"/>
<path d="M323.72 452.02L331.72 452.02L327.72 458.92Z" fill="none" stroke="#16a084" stroke-width="1.55" stroke-linejoin="round"/>
<path d="M329.31 446.57L337.31 446.57L333.31 453.47Z" fill="none" stroke="#16a084" stroke-width="1.55" stroke-linejoin="round"/>
<path d="M335.01 440.23L343.01 440.23L339.01 447.13Z" fill="none" stroke="#16a084" stroke-width="1.55" stroke-linejoin="round"/>
<path d="M340.94 433.89L348.94 433.89L344.94 440.79Z" fill="none" stroke="#16a084" stroke-width="1.55" stroke-linejoin="round"/>
<path d="M346.19 426.78L354.19 426.78L350.19 433.68Z" fill="none" stroke="#16a084" stroke-width="1.55" stroke-linejoin="round"/>
<path d="M352.12 409.99L360.12 409.99L356.12 416.89Z" fill="none" stroke="#16a084" stroke-width="1.55" stroke-linejoin="round"/>
<line x1="241.2" y1="402.2" x2="241.2" y2="526.75" stroke="#000" stroke-width="1.1"/>
<line x1="240.65" y1="526.2" x2="367.8" y2="526.2" stroke="#000" stroke-width="1.1"/>
<line x1="238.7" y1="520.3" x2="241.2" y2="520.3" stroke="#000" stroke-width="1.1"/>
<text transform="translate(237.2 524.83) scale(1 1.12)" font-size="11.3" fill="#4d4d4d" text-anchor="end">0.0</text>
<line x1="238.7" y1="464.7" x2="241.2" y2="464.7" stroke="#000" stroke-width="1.1"/>
<text transform="translate(237.2 469.23) scale(1 1.12)" font-size="11.3" fill="#4d4d4d" text-anchor="end">0.5</text>
<line x1="238.7" y1="409.1" x2="241.2" y2="409.1" stroke="#000" stroke-width="1.1"/>
<text transform="translate(237.2 413.63) scale(1 1.12)" font-size="11.3" fill="#4d4d4d" text-anchor="end">1.0</text>
<line x1="247" y1="526.2" x2="247" y2="528.7" stroke="#000" stroke-width="1.1"/>
<text transform="translate(247 539.93) scale(1 1.12)" font-size="11.3" fill="#4d4d4d" text-anchor="middle">0.0</text>
<line x1="302.9" y1="526.2" x2="302.9" y2="528.7" stroke="#000" stroke-width="1.1"/>
<text transform="translate(302.9 539.93) scale(1 1.12)" font-size="11.3" fill="#4d4d4d" text-anchor="middle">0.5</text>
<line x1="358.8" y1="526.2" x2="358.8" y2="528.7" stroke="#000" stroke-width="1.1"/>
<text transform="translate(358.8 539.93) scale(1 1.12)" font-size="11.3" fill="#4d4d4d" text-anchor="middle">1.0</text>
<line x1="241.4" y1="676.4" x2="365.8" y2="552" stroke="#9a9a9a" stroke-width="1"/>
<circle cx="356.1" cy="560.27" r="2.9" fill="none" stroke="#2a7cd4" stroke-width="1.55"/>
<circle cx="350.17" cy="567.18" r="2.9" fill="none" stroke="#2a7cd4" stroke-width="1.55"/>
<circle cx="344.42" cy="573.54" r="2.9" fill="none" stroke="#2a7cd4" stroke-width="1.55"/>
<circle cx="339.03" cy="579" r="2.9" fill="none" stroke="#2a7cd4" stroke-width="1.55"/>
<circle cx="333.28" cy="585" r="2.9" fill="none" stroke="#2a7cd4" stroke-width="1.55"/>
<circle cx="327.7" cy="589.9" r="2.9" fill="none" stroke="#2a7cd4" stroke-width="1.55"/>
<circle cx="322.31" cy="597.72" r="2.9" fill="none" stroke="#2a7cd4" stroke-width="1.55"/>
<circle cx="316.74" cy="600.81" r="2.9" fill="none" stroke="#2a7cd4" stroke-width="1.55"/>
<circle cx="310.81" cy="608.08" r="2.9" fill="none" stroke="#2a7cd4" stroke-width="1.55"/>
<circle cx="305.24" cy="612.99" r="2.9" fill="none" stroke="#2a7cd4" stroke-width="1.55"/>
<circle cx="299.48" cy="618.08" r="2.9" fill="none" stroke="#2a7cd4" stroke-width="1.55"/>
<circle cx="294.09" cy="624.44" r="2.9" fill="none" stroke="#2a7cd4" stroke-width="1.55"/>
<circle cx="288.34" cy="629.35" r="2.9" fill="none" stroke="#2a7cd4" stroke-width="1.55"/>
<circle cx="282.95" cy="634.08" r="2.9" fill="none" stroke="#2a7cd4" stroke-width="1.55"/>
<circle cx="277.02" cy="640.8" r="2.9" fill="none" stroke="#2a7cd4" stroke-width="1.55"/>
<circle cx="271.62" cy="645.89" r="2.9" fill="none" stroke="#2a7cd4" stroke-width="1.55"/>
<circle cx="265.69" cy="651.71" r="2.9" fill="none" stroke="#2a7cd4" stroke-width="1.55"/>
<circle cx="259.94" cy="657.71" r="2.9" fill="none" stroke="#2a7cd4" stroke-width="1.55"/>
<circle cx="254.55" cy="663.53" r="2.9" fill="none" stroke="#2a7cd4" stroke-width="1.55"/>
<circle cx="248.8" cy="670.44" r="2.9" fill="none" stroke="#2a7cd4" stroke-width="1.55"/>
<path d="M352.1 557.91L360.1 557.91L356.1 564.81Z" fill="none" stroke="#16a084" stroke-width="1.55" stroke-linejoin="round"/>
<path d="M346.17 571L354.17 571L350.17 577.9Z" fill="none" stroke="#16a084" stroke-width="1.55" stroke-linejoin="round"/>
<path d="M340.42 576.46L348.42 576.46L344.42 583.36Z" fill="none" stroke="#16a084" stroke-width="1.55" stroke-linejoin="round"/>
<path d="M335.03 582.27L343.03 582.27L339.03 589.17Z" fill="none" stroke="#16a084" stroke-width="1.55" stroke-linejoin="round"/>
<path d="M329.28 589.54L337.28 589.54L333.28 596.44Z" fill="none" stroke="#16a084" stroke-width="1.55" stroke-linejoin="round"/>
<path d="M323.7 594.63L331.7 594.63L327.7 601.53Z" fill="none" stroke="#16a084" stroke-width="1.55" stroke-linejoin="round"/>
<path d="M318.31 601.54L326.31 601.54L322.31 608.44Z" fill="none" stroke="#16a084" stroke-width="1.55" stroke-linejoin="round"/>
<path d="M312.74 605.18L320.74 605.18L316.74 612.08Z" fill="none" stroke="#16a084" stroke-width="1.55" stroke-linejoin="round"/>
<path d="M306.81 613.72L314.81 613.72L310.81 620.62Z" fill="none" stroke="#16a084" stroke-width="1.55" stroke-linejoin="round"/>
<path d="M301.24 617.36L309.24 617.36L305.24 624.26Z" fill="none" stroke="#16a084" stroke-width="1.55" stroke-linejoin="round"/>
<path d="M295.48 620.08L303.48 620.08L299.48 626.98Z" fill="none" stroke="#16a084" stroke-width="1.55" stroke-linejoin="round"/>
<path d="M290.09 625.54L298.09 625.54L294.09 632.44Z" fill="none" stroke="#16a084" stroke-width="1.55" stroke-linejoin="round"/>
<path d="M284.34 630.99L292.34 630.99L288.34 637.89Z" fill="none" stroke="#16a084" stroke-width="1.55" stroke-linejoin="round"/>
<path d="M278.95 633.72L286.95 633.72L282.95 640.62Z" fill="none" stroke="#16a084" stroke-width="1.55" stroke-linejoin="round"/>
<path d="M273.02 640.08L281.02 640.08L277.02 646.98Z" fill="none" stroke="#16a084" stroke-width="1.55" stroke-linejoin="round"/>
<path d="M267.62 644.63L275.62 644.63L271.62 651.53Z" fill="none" stroke="#16a084" stroke-width="1.55" stroke-linejoin="round"/>
<path d="M261.69 650.63L269.69 650.63L265.69 657.53Z" fill="none" stroke="#16a084" stroke-width="1.55" stroke-linejoin="round"/>
<path d="M255.94 655.53L263.94 655.53L259.94 662.43Z" fill="none" stroke="#16a084" stroke-width="1.55" stroke-linejoin="round"/>
<path d="M250.55 661.9L258.55 661.9L254.55 668.8Z" fill="none" stroke="#16a084" stroke-width="1.55" stroke-linejoin="round"/>
<path d="M244.8 667.35L252.8 667.35L248.8 674.25Z" fill="none" stroke="#16a084" stroke-width="1.55" stroke-linejoin="round"/>
<line x1="241.2" y1="552" x2="241.2" y2="676.95" stroke="#000" stroke-width="1.1"/>
<line x1="240.65" y1="676.4" x2="367.6" y2="676.4" stroke="#000" stroke-width="1.1"/>
<line x1="238.7" y1="670.8" x2="241.2" y2="670.8" stroke="#000" stroke-width="1.1"/>
<text transform="translate(237.2 675.33) scale(1 1.12)" font-size="11.3" fill="#4d4d4d" text-anchor="end">0.0</text>
<line x1="238.7" y1="614.9" x2="241.2" y2="614.9" stroke="#000" stroke-width="1.1"/>
<text transform="translate(237.2 619.43) scale(1 1.12)" font-size="11.3" fill="#4d4d4d" text-anchor="end">0.5</text>
<line x1="238.7" y1="559" x2="241.2" y2="559" stroke="#000" stroke-width="1.1"/>
<text transform="translate(237.2 563.53) scale(1 1.12)" font-size="11.3" fill="#4d4d4d" text-anchor="end">1.0</text>
<line x1="247" y1="676.4" x2="247" y2="678.9" stroke="#000" stroke-width="1.1"/>
<text transform="translate(247 690.13) scale(1 1.12)" font-size="11.3" fill="#4d4d4d" text-anchor="middle">0.0</text>
<line x1="302.9" y1="676.4" x2="302.9" y2="678.9" stroke="#000" stroke-width="1.1"/>
<text transform="translate(302.9 690.13) scale(1 1.12)" font-size="11.3" fill="#4d4d4d" text-anchor="middle">0.5</text>
<line x1="358.8" y1="676.4" x2="358.8" y2="678.9" stroke="#000" stroke-width="1.1"/>
<text transform="translate(358.8 690.13) scale(1 1.12)" font-size="11.3" fill="#4d4d4d" text-anchor="middle">1.0</text>
<text x="215.5" y="464.4" font-size="12" fill="#000" text-anchor="middle" transform="rotate(-90 215.5 464.4)"><tspan font-style="italic">p</tspan> correct</text>
<text x="215.5" y="614.6" font-size="12" fill="#000" text-anchor="middle" transform="rotate(-90 215.5 614.6)"><tspan font-style="italic">p</tspan> correct</text>
<text x="302.5" y="704.3" font-size="12" fill="#000" text-anchor="middle">All states PP</text>
<text x="302.5" y="716.9" font-size="12" fill="#000" text-anchor="middle">(optimized branch length)</text>
<text x="384.25" y="396.3" font-size="16.8" fill="#000" font-weight="bold">(i)</text>
<line x1="428.3" y1="523.21" x2="552.2" y2="455.07" stroke="#9a9a9a" stroke-width="1"/>
<circle cx="539.2" cy="415.03" r="4.75" fill="none" stroke="#2a7cd4" stroke-width="1.6"/>
<circle cx="486.4" cy="473.11" r="4.75" fill="none" stroke="#2a7cd4" stroke-width="1.6"/>
<circle cx="460" cy="501.06" r="4.75" fill="none" stroke="#2a7cd4" stroke-width="1.6"/>
<circle cx="446.8" cy="511.22" r="4.75" fill="none" stroke="#2a7cd4" stroke-width="1.6"/>
<circle cx="440.2" cy="516.67" r="4.75" fill="none" stroke="#2a7cd4" stroke-width="1.6"/>
<circle cx="436.9" cy="518.48" r="4.75" fill="none" stroke="#2a7cd4" stroke-width="1.6"/>
<path d="M533.1 480.5L545.3 480.5L539.2 491Z" fill="none" stroke="#16a084" stroke-width="1.6" stroke-linejoin="round"/>
<path d="M480.3 493.2L492.5 493.2L486.4 503.7Z" fill="none" stroke="#16a084" stroke-width="1.6" stroke-linejoin="round"/>
<path d="M453.9 504.09L466.1 504.09L460 514.6Z" fill="none" stroke="#16a084" stroke-width="1.6" stroke-linejoin="round"/>
<path d="M440.7 510.63L452.9 510.63L446.8 521.13Z" fill="none" stroke="#16a084" stroke-width="1.6" stroke-linejoin="round"/>
<path d="M434.1 513.9L446.3 513.9L440.2 524.4Z" fill="none" stroke="#16a084" stroke-width="1.6" stroke-linejoin="round"/>
<path d="M430.8 515.35L443 515.35L436.9 525.85Z" fill="none" stroke="#16a084" stroke-width="1.6" stroke-linejoin="round"/>
<line x1="428.3" y1="402.3" x2="428.3" y2="526.65" stroke="#000" stroke-width="1.1"/>
<line x1="427.75" y1="526.1" x2="552.2" y2="526.1" stroke="#000" stroke-width="1.1"/>
<line x1="425.8" y1="520.3" x2="428.3" y2="520.3" stroke="#000" stroke-width="1.1"/>
<text transform="translate(424.3 524.83) scale(1 1.12)" font-size="11.3" fill="#4d4d4d" text-anchor="end">0</text>
<line x1="425.8" y1="484" x2="428.3" y2="484" stroke="#000" stroke-width="1.1"/>
<text transform="translate(424.3 488.53) scale(1 1.12)" font-size="11.3" fill="#4d4d4d" text-anchor="end">1</text>
<line x1="425.8" y1="447.7" x2="428.3" y2="447.7" stroke="#000" stroke-width="1.1"/>
<text transform="translate(424.3 452.23) scale(1 1.12)" font-size="11.3" fill="#4d4d4d" text-anchor="end">2</text>
<line x1="425.8" y1="411.4" x2="428.3" y2="411.4" stroke="#000" stroke-width="1.1"/>
<text transform="translate(424.3 415.93) scale(1 1.12)" font-size="11.3" fill="#4d4d4d" text-anchor="end">3</text>
<line x1="433.6" y1="526.1" x2="433.6" y2="528.6" stroke="#000" stroke-width="1.1"/>
<text transform="translate(433.6 539.83) scale(1 1.12)" font-size="11.3" fill="#4d4d4d" text-anchor="middle">0.0</text>
<line x1="466.6" y1="526.1" x2="466.6" y2="528.6" stroke="#000" stroke-width="1.1"/>
<text transform="translate(466.6 539.83) scale(1 1.12)" font-size="11.3" fill="#4d4d4d" text-anchor="middle">0.5</text>
<line x1="499.6" y1="526.1" x2="499.6" y2="528.6" stroke="#000" stroke-width="1.1"/>
<text transform="translate(499.6 539.83) scale(1 1.12)" font-size="11.3" fill="#4d4d4d" text-anchor="middle">1.0</text>
<line x1="532.6" y1="526.1" x2="532.6" y2="528.6" stroke="#000" stroke-width="1.1"/>
<text transform="translate(532.6 539.83) scale(1 1.12)" font-size="11.3" fill="#4d4d4d" text-anchor="middle">1.5</text>
<line x1="539.2" y1="411.83" x2="539.2" y2="418.23" stroke="#555" stroke-width="1"/>
<line x1="486.4" y1="469.91" x2="486.4" y2="476.31" stroke="#555" stroke-width="1"/>
<line x1="460" y1="497.86" x2="460" y2="504.26" stroke="#555" stroke-width="1"/>
<line x1="428.3" y1="673.62" x2="552.2" y2="605.47" stroke="#9a9a9a" stroke-width="1"/>
<circle cx="539.2" cy="610.44" r="4.75" fill="none" stroke="#2a7cd4" stroke-width="1.6"/>
<circle cx="486.4" cy="641.66" r="4.75" fill="none" stroke="#2a7cd4" stroke-width="1.6"/>
<circle cx="460" cy="655.45" r="4.75" fill="none" stroke="#2a7cd4" stroke-width="1.6"/>
<circle cx="446.8" cy="662.71" r="4.75" fill="none" stroke="#2a7cd4" stroke-width="1.6"/>
<circle cx="440.2" cy="667.07" r="4.75" fill="none" stroke="#2a7cd4" stroke-width="1.6"/>
<circle cx="436.9" cy="668.88" r="4.75" fill="none" stroke="#2a7cd4" stroke-width="1.6"/>
<path d="M533.1 632.72L545.3 632.72L539.2 643.22Z" fill="none" stroke="#16a084" stroke-width="1.6" stroke-linejoin="round"/>
<path d="M480.3 645.42L492.5 645.42L486.4 655.92Z" fill="none" stroke="#16a084" stroke-width="1.6" stroke-linejoin="round"/>
<path d="M453.9 655.22L466.1 655.22L460 665.72Z" fill="none" stroke="#16a084" stroke-width="1.6" stroke-linejoin="round"/>
<path d="M440.7 661.03L452.9 661.03L446.8 671.53Z" fill="none" stroke="#16a084" stroke-width="1.6" stroke-linejoin="round"/>
<path d="M434.1 664.3L446.3 664.3L440.2 674.8Z" fill="none" stroke="#16a084" stroke-width="1.6" stroke-linejoin="round"/>
<path d="M430.8 665.75L443 665.75L436.9 676.25Z" fill="none" stroke="#16a084" stroke-width="1.6" stroke-linejoin="round"/>
<line x1="428.3" y1="552.7" x2="428.3" y2="677.05" stroke="#000" stroke-width="1.1"/>
<line x1="427.75" y1="676.5" x2="552.2" y2="676.5" stroke="#000" stroke-width="1.1"/>
<line x1="425.8" y1="670.7" x2="428.3" y2="670.7" stroke="#000" stroke-width="1.1"/>
<text transform="translate(424.3 675.23) scale(1 1.12)" font-size="11.3" fill="#4d4d4d" text-anchor="end">0</text>
<line x1="425.8" y1="634.4" x2="428.3" y2="634.4" stroke="#000" stroke-width="1.1"/>
<text transform="translate(424.3 638.93) scale(1 1.12)" font-size="11.3" fill="#4d4d4d" text-anchor="end">1</text>
<line x1="425.8" y1="598.1" x2="428.3" y2="598.1" stroke="#000" stroke-width="1.1"/>
<text transform="translate(424.3 602.63) scale(1 1.12)" font-size="11.3" fill="#4d4d4d" text-anchor="end">2</text>
<line x1="425.8" y1="561.8" x2="428.3" y2="561.8" stroke="#000" stroke-width="1.1"/>
<text transform="translate(424.3 566.33) scale(1 1.12)" font-size="11.3" fill="#4d4d4d" text-anchor="end">3</text>
<line x1="433.6" y1="676.5" x2="433.6" y2="679" stroke="#000" stroke-width="1.1"/>
<text transform="translate(433.6 690.23) scale(1 1.12)" font-size="11.3" fill="#4d4d4d" text-anchor="middle">0.0</text>
<line x1="466.6" y1="676.5" x2="466.6" y2="679" stroke="#000" stroke-width="1.1"/>
<text transform="translate(466.6 690.23) scale(1 1.12)" font-size="11.3" fill="#4d4d4d" text-anchor="middle">0.5</text>
<line x1="499.6" y1="676.5" x2="499.6" y2="679" stroke="#000" stroke-width="1.1"/>
<text transform="translate(499.6 690.23) scale(1 1.12)" font-size="11.3" fill="#4d4d4d" text-anchor="middle">1.0</text>
<line x1="532.6" y1="676.5" x2="532.6" y2="679" stroke="#000" stroke-width="1.1"/>
<text transform="translate(532.6 690.23) scale(1 1.12)" font-size="11.3" fill="#4d4d4d" text-anchor="middle">1.5</text>
<line x1="539.2" y1="608.94" x2="539.2" y2="611.94" stroke="#555" stroke-width="1"/>
<line x1="486.4" y1="640.16" x2="486.4" y2="643.16" stroke="#555" stroke-width="1"/>
<line x1="460" y1="653.95" x2="460" y2="656.95" stroke="#555" stroke-width="1"/>
<text x="397.8" y="464.2" font-size="12" fill="#000" text-anchor="middle" transform="rotate(-90 397.8 464.2)">Est. branch length</text>
<text x="411.5" y="463.4" font-size="12" fill="#000" text-anchor="middle" transform="rotate(-90 411.5 463.4)">(subs/site)</text>
<text x="397.8" y="614.4" font-size="12" fill="#000" text-anchor="middle" transform="rotate(-90 397.8 614.4)">Est. branch length</text>
<text x="411.5" y="613.6" font-size="12" fill="#000" text-anchor="middle" transform="rotate(-90 411.5 613.6)">(subs/site)</text>
<text x="490" y="703.6" font-size="12" fill="#000" text-anchor="middle">Simulated branch</text>
<text x="490" y="716.9" font-size="12" fill="#000" text-anchor="middle">length (subs/site)</text>
<text x="566.75" y="396.3" font-size="16.8" fill="#000" font-weight="bold">(j)</text>
<line x1="607.2" y1="525.87" x2="730" y2="403.73" stroke="#9a9a9a" stroke-width="1"/>
<circle cx="722.08" cy="409.1" r="2.9" fill="none" stroke="#2a7cd4" stroke-width="1.55"/>
<circle cx="716.12" cy="416.31" r="2.9" fill="none" stroke="#2a7cd4" stroke-width="1.55"/>
<circle cx="710.72" cy="421.72" r="2.9" fill="none" stroke="#2a7cd4" stroke-width="1.55"/>
<circle cx="704.94" cy="427.12" r="2.9" fill="none" stroke="#2a7cd4" stroke-width="1.55"/>
<circle cx="699.35" cy="432.89" r="2.9" fill="none" stroke="#2a7cd4" stroke-width="1.55"/>
<circle cx="693.58" cy="437.94" r="2.9" fill="none" stroke="#2a7cd4" stroke-width="1.55"/>
<circle cx="688.17" cy="443.34" r="2.9" fill="none" stroke="#2a7cd4" stroke-width="1.55"/>
<circle cx="682.77" cy="450.01" r="2.9" fill="none" stroke="#2a7cd4" stroke-width="1.55"/>
<circle cx="676.81" cy="456.68" r="2.9" fill="none" stroke="#2a7cd4" stroke-width="1.55"/>
<circle cx="671.04" cy="463.17" r="2.9" fill="none" stroke="#2a7cd4" stroke-width="1.55"/>
<circle cx="665.27" cy="469.3" r="2.9" fill="none" stroke="#2a7cd4" stroke-width="1.55"/>
<circle cx="659.32" cy="474.34" r="2.9" fill="none" stroke="#2a7cd4" stroke-width="1.55"/>
<circle cx="653.91" cy="480.11" r="2.9" fill="none" stroke="#2a7cd4" stroke-width="1.55"/>
<circle cx="648.5" cy="485.52" r="2.9" fill="none" stroke="#2a7cd4" stroke-width="1.55"/>
<circle cx="643.09" cy="490.56" r="2.9" fill="none" stroke="#2a7cd4" stroke-width="1.55"/>
<circle cx="637.32" cy="496.33" r="2.9" fill="none" stroke="#2a7cd4" stroke-width="1.55"/>
<circle cx="631.91" cy="502.28" r="2.9" fill="none" stroke="#2a7cd4" stroke-width="1.55"/>
<circle cx="625.96" cy="507.68" r="2.9" fill="none" stroke="#2a7cd4" stroke-width="1.55"/>
<circle cx="620.55" cy="513.09" r="2.9" fill="none" stroke="#2a7cd4" stroke-width="1.55"/>
<circle cx="614.6" cy="519.04" r="2.9" fill="none" stroke="#2a7cd4" stroke-width="1.55"/>
<path d="M718.08 406.91L726.08 406.91L722.08 413.81Z" fill="none" stroke="#16a084" stroke-width="1.55" stroke-linejoin="round"/>
<path d="M712.12 419.53L720.12 419.53L716.12 426.43Z" fill="none" stroke="#16a084" stroke-width="1.55" stroke-linejoin="round"/>
<path d="M706.72 424.03L714.72 424.03L710.72 430.93Z" fill="none" stroke="#16a084" stroke-width="1.55" stroke-linejoin="round"/>
<path d="M700.94 430.34L708.94 430.34L704.94 437.24Z" fill="none" stroke="#16a084" stroke-width="1.55" stroke-linejoin="round"/>
<path d="M695.35 435.75L703.35 435.75L699.35 442.65Z" fill="none" stroke="#16a084" stroke-width="1.55" stroke-linejoin="round"/>
<path d="M689.58 441.15L697.58 441.15L693.58 448.05Z" fill="none" stroke="#16a084" stroke-width="1.55" stroke-linejoin="round"/>
<path d="M684.17 446.02L692.17 446.02L688.17 452.92Z" fill="none" stroke="#16a084" stroke-width="1.55" stroke-linejoin="round"/>
<path d="M678.77 451.97L686.77 451.97L682.77 458.87Z" fill="none" stroke="#16a084" stroke-width="1.55" stroke-linejoin="round"/>
<path d="M672.81 457.92L680.81 457.92L676.81 464.82Z" fill="none" stroke="#16a084" stroke-width="1.55" stroke-linejoin="round"/>
<path d="M667.04 462.24L675.04 462.24L671.04 469.14Z" fill="none" stroke="#16a084" stroke-width="1.55" stroke-linejoin="round"/>
<path d="M661.27 467.29L669.27 467.29L665.27 474.19Z" fill="none" stroke="#16a084" stroke-width="1.55" stroke-linejoin="round"/>
<path d="M655.32 470.89L663.32 470.89L659.32 477.79Z" fill="none" stroke="#16a084" stroke-width="1.55" stroke-linejoin="round"/>
<path d="M649.91 476.3L657.91 476.3L653.91 483.2Z" fill="none" stroke="#16a084" stroke-width="1.55" stroke-linejoin="round"/>
<path d="M644.5 481.71L652.5 481.71L648.5 488.61Z" fill="none" stroke="#16a084" stroke-width="1.55" stroke-linejoin="round"/>
<path d="M639.09 487.11L647.09 487.11L643.09 494.01Z" fill="none" stroke="#16a084" stroke-width="1.55" stroke-linejoin="round"/>
<path d="M633.32 492.52L641.32 492.52L637.32 499.42Z" fill="none" stroke="#16a084" stroke-width="1.55" stroke-linejoin="round"/>
<path d="M627.91 497.93L635.91 497.93L631.91 504.83Z" fill="none" stroke="#16a084" stroke-width="1.55" stroke-linejoin="round"/>
<path d="M621.96 504.23L629.96 504.23L625.96 511.13Z" fill="none" stroke="#16a084" stroke-width="1.55" stroke-linejoin="round"/>
<path d="M616.55 509.64L624.55 509.64L620.55 516.54Z" fill="none" stroke="#16a084" stroke-width="1.55" stroke-linejoin="round"/>
<path d="M610.6 515.95L618.6 515.95L614.6 522.85Z" fill="none" stroke="#16a084" stroke-width="1.55" stroke-linejoin="round"/>
<line x1="607.2" y1="402.2" x2="607.2" y2="526.75" stroke="#000" stroke-width="1.1"/>
<line x1="606.65" y1="526.2" x2="730" y2="526.2" stroke="#000" stroke-width="1.1"/>
<line x1="604.7" y1="520.3" x2="607.2" y2="520.3" stroke="#000" stroke-width="1.1"/>
<text transform="translate(603.2 524.83) scale(1 1.12)" font-size="11.3" fill="#4d4d4d" text-anchor="end">0.0</text>
<line x1="604.7" y1="464.7" x2="607.2" y2="464.7" stroke="#000" stroke-width="1.1"/>
<text transform="translate(603.2 469.23) scale(1 1.12)" font-size="11.3" fill="#4d4d4d" text-anchor="end">0.5</text>
<line x1="604.7" y1="409.1" x2="607.2" y2="409.1" stroke="#000" stroke-width="1.1"/>
<text transform="translate(603.2 413.63) scale(1 1.12)" font-size="11.3" fill="#4d4d4d" text-anchor="end">1.0</text>
<line x1="612.8" y1="526.2" x2="612.8" y2="528.7" stroke="#000" stroke-width="1.1"/>
<text transform="translate(612.8 539.93) scale(1 1.12)" font-size="11.3" fill="#4d4d4d" text-anchor="middle">0.0</text>
<line x1="668.7" y1="526.2" x2="668.7" y2="528.7" stroke="#000" stroke-width="1.1"/>
<text transform="translate(668.7 539.93) scale(1 1.12)" font-size="11.3" fill="#4d4d4d" text-anchor="middle">0.5</text>
<line x1="724.6" y1="526.2" x2="724.6" y2="528.7" stroke="#000" stroke-width="1.1"/>
<text transform="translate(724.6 539.93) scale(1 1.12)" font-size="11.3" fill="#4d4d4d" text-anchor="middle">1.0</text>
<line x1="607.2" y1="676.4" x2="730" y2="553.6" stroke="#9a9a9a" stroke-width="1"/>
<circle cx="722.08" cy="560.27" r="2.9" fill="none" stroke="#2a7cd4" stroke-width="1.55"/>
<circle cx="716.49" cy="566.61" r="2.9" fill="none" stroke="#2a7cd4" stroke-width="1.55"/>
<circle cx="710.72" cy="572.41" r="2.9" fill="none" stroke="#2a7cd4" stroke-width="1.55"/>
<circle cx="704.94" cy="578.03" r="2.9" fill="none" stroke="#2a7cd4" stroke-width="1.55"/>
<circle cx="699.35" cy="583.82" r="2.9" fill="none" stroke="#2a7cd4" stroke-width="1.55"/>
<circle cx="693.58" cy="589.26" r="2.9" fill="none" stroke="#2a7cd4" stroke-width="1.55"/>
<circle cx="688.17" cy="594.7" r="2.9" fill="none" stroke="#2a7cd4" stroke-width="1.55"/>
<circle cx="682.77" cy="600.13" r="2.9" fill="none" stroke="#2a7cd4" stroke-width="1.55"/>
<circle cx="676.81" cy="606.47" r="2.9" fill="none" stroke="#2a7cd4" stroke-width="1.55"/>
<circle cx="671.04" cy="612.82" r="2.9" fill="none" stroke="#2a7cd4" stroke-width="1.55"/>
<circle cx="665.27" cy="618.8" r="2.9" fill="none" stroke="#2a7cd4" stroke-width="1.55"/>
<circle cx="659.32" cy="623.69" r="2.9" fill="none" stroke="#2a7cd4" stroke-width="1.55"/>
<circle cx="653.91" cy="629.12" r="2.9" fill="none" stroke="#2a7cd4" stroke-width="1.55"/>
<circle cx="648.5" cy="634.56" r="2.9" fill="none" stroke="#2a7cd4" stroke-width="1.55"/>
<circle cx="643.09" cy="640.36" r="2.9" fill="none" stroke="#2a7cd4" stroke-width="1.55"/>
<circle cx="637.32" cy="645.98" r="2.9" fill="none" stroke="#2a7cd4" stroke-width="1.55"/>
<circle cx="631.91" cy="651.77" r="2.9" fill="none" stroke="#2a7cd4" stroke-width="1.55"/>
<circle cx="625.96" cy="658.12" r="2.9" fill="none" stroke="#2a7cd4" stroke-width="1.55"/>
<circle cx="620.55" cy="663.55" r="2.9" fill="none" stroke="#2a7cd4" stroke-width="1.55"/>
<circle cx="614.6" cy="669.89" r="2.9" fill="none" stroke="#2a7cd4" stroke-width="1.55"/>
<path d="M718.08 558.09L726.08 558.09L722.08 564.99Z" fill="none" stroke="#16a084" stroke-width="1.55" stroke-linejoin="round"/>
<path d="M712.49 570.05L720.49 570.05L716.49 576.95Z" fill="none" stroke="#16a084" stroke-width="1.55" stroke-linejoin="round"/>
<path d="M706.72 574.94L714.72 574.94L710.72 581.84Z" fill="none" stroke="#16a084" stroke-width="1.55" stroke-linejoin="round"/>
<path d="M700.94 580.01L708.94 580.01L704.94 586.91Z" fill="none" stroke="#16a084" stroke-width="1.55" stroke-linejoin="round"/>
<path d="M695.35 585.81L703.35 585.81L699.35 592.71Z" fill="none" stroke="#16a084" stroke-width="1.55" stroke-linejoin="round"/>
<path d="M689.58 590.34L697.58 590.34L693.58 597.24Z" fill="none" stroke="#16a084" stroke-width="1.55" stroke-linejoin="round"/>
<path d="M684.17 596.68L692.17 596.68L688.17 603.58Z" fill="none" stroke="#16a084" stroke-width="1.55" stroke-linejoin="round"/>
<path d="M678.77 601.57L686.77 601.57L682.77 608.47Z" fill="none" stroke="#16a084" stroke-width="1.55" stroke-linejoin="round"/>
<path d="M672.81 607.55L680.81 607.55L676.81 614.45Z" fill="none" stroke="#16a084" stroke-width="1.55" stroke-linejoin="round"/>
<path d="M667.04 613.53L675.04 613.53L671.04 620.43Z" fill="none" stroke="#16a084" stroke-width="1.55" stroke-linejoin="round"/>
<path d="M661.27 615.71L669.27 615.71L665.27 622.61Z" fill="none" stroke="#16a084" stroke-width="1.55" stroke-linejoin="round"/>
<path d="M655.32 619.69L663.32 619.69L659.32 626.59Z" fill="none" stroke="#16a084" stroke-width="1.55" stroke-linejoin="round"/>
<path d="M649.91 625.13L657.91 625.13L653.91 632.03Z" fill="none" stroke="#16a084" stroke-width="1.55" stroke-linejoin="round"/>
<path d="M644.5 631.11L652.5 631.11L648.5 638.01Z" fill="none" stroke="#16a084" stroke-width="1.55" stroke-linejoin="round"/>
<path d="M639.09 636.91L647.09 636.91L643.09 643.81Z" fill="none" stroke="#16a084" stroke-width="1.55" stroke-linejoin="round"/>
<path d="M633.32 642.89L641.32 642.89L637.32 649.79Z" fill="none" stroke="#16a084" stroke-width="1.55" stroke-linejoin="round"/>
<path d="M627.91 648.32L635.91 648.32L631.91 655.22Z" fill="none" stroke="#16a084" stroke-width="1.55" stroke-linejoin="round"/>
<path d="M621.96 654.67L629.96 654.67L625.96 661.57Z" fill="none" stroke="#16a084" stroke-width="1.55" stroke-linejoin="round"/>
<path d="M616.55 660.1L624.55 660.1L620.55 667Z" fill="none" stroke="#16a084" stroke-width="1.55" stroke-linejoin="round"/>
<path d="M610.6 666.44L618.6 666.44L614.6 673.34Z" fill="none" stroke="#16a084" stroke-width="1.55" stroke-linejoin="round"/>
<line x1="607.2" y1="552" x2="607.2" y2="676.95" stroke="#000" stroke-width="1.1"/>
<line x1="606.65" y1="676.4" x2="730" y2="676.4" stroke="#000" stroke-width="1.1"/>
<line x1="604.7" y1="670.8" x2="607.2" y2="670.8" stroke="#000" stroke-width="1.1"/>
<text transform="translate(603.2 675.33) scale(1 1.12)" font-size="11.3" fill="#4d4d4d" text-anchor="end">0.0</text>
<line x1="604.7" y1="614.9" x2="607.2" y2="614.9" stroke="#000" stroke-width="1.1"/>
<text transform="translate(603.2 619.43) scale(1 1.12)" font-size="11.3" fill="#4d4d4d" text-anchor="end">0.5</text>
<line x1="604.7" y1="559" x2="607.2" y2="559" stroke="#000" stroke-width="1.1"/>
<text transform="translate(603.2 563.53) scale(1 1.12)" font-size="11.3" fill="#4d4d4d" text-anchor="end">1.0</text>
<line x1="612.8" y1="676.4" x2="612.8" y2="678.9" stroke="#000" stroke-width="1.1"/>
<text transform="translate(612.8 690.13) scale(1 1.12)" font-size="11.3" fill="#4d4d4d" text-anchor="middle">0.0</text>
<line x1="668.7" y1="676.4" x2="668.7" y2="678.9" stroke="#000" stroke-width="1.1"/>
<text transform="translate(668.7 690.13) scale(1 1.12)" font-size="11.3" fill="#4d4d4d" text-anchor="middle">0.5</text>
<line x1="724.6" y1="676.4" x2="724.6" y2="678.9" stroke="#000" stroke-width="1.1"/>
<text transform="translate(724.6 690.13) scale(1 1.12)" font-size="11.3" fill="#4d4d4d" text-anchor="middle">1.0</text>
<text x="581.5" y="464.4" font-size="12" fill="#000" text-anchor="middle" transform="rotate(-90 581.5 464.4)"><tspan font-style="italic">p</tspan> correct</text>
<text x="581.5" y="614.6" font-size="12" fill="#000" text-anchor="middle" transform="rotate(-90 581.5 614.6)"><tspan font-style="italic">p</tspan> correct</text>
<text x="668.8" y="703.6" font-size="12" fill="#000" text-anchor="middle">All states PP</text>
<text x="668.8" y="716.9" font-size="12" fill="#000" text-anchor="middle">(fixed branch length)</text>
<rect x="684" y="474" width="116" height="44" fill="#fff" stroke="none" stroke-width="1"/>
<text x="742.3" y="486.5" font-size="11.25" fill="#000" text-anchor="middle">Reconstruction</text>
<line x1="685.3" y1="488.6" x2="800" y2="488.6" stroke="#000" stroke-width="1.1"/>
<circle cx="690.2" cy="496.7" r="2.9" fill="none" stroke="#2a7cd4" stroke-width="1.6"/>
<text x="697.8" y="500" font-size="11.25" fill="#2a7cd4">True site-specific</text>
<path d="M686.5 506.75L693.9 506.75L690.2 513.05Z" fill="none" stroke="#16a084" stroke-width="1.6" stroke-linejoin="round"/>
<text x="697.8" y="513.8" font-size="11.25" fill="#16a084">Related site-specific</text>
</svg></body></html>
